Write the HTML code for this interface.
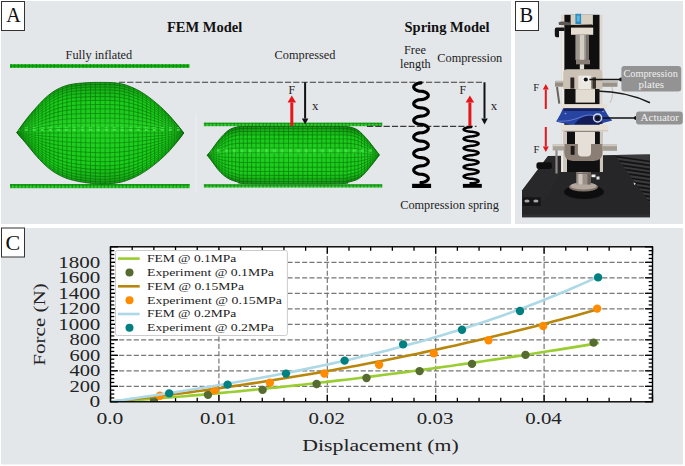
<!DOCTYPE html>
<html><head><meta charset="utf-8"><title>Figure</title>
<style>html,body{margin:0;padding:0;background:#fff;} svg{display:block;} text{font-family:"Liberation Serif", serif;}</style>
</head><body>
<svg width="685" height="466" viewBox="0 0 685 466">
<defs>
 <pattern id="plate" patternUnits="userSpaceOnUse" width="3.6" height="4.4" x="0" y="0">
  <rect width="3.6" height="4.4" fill="#0c860c"/>
  <rect x="0.7" y="0.6" width="2.6" height="3.2" fill="#34cc34"/>
 </pattern>
 <pattern id="mesh" patternUnits="userSpaceOnUse" width="4" height="4">
  <rect width="4" height="4" fill="#077207"/>
  <rect x="0.8" y="0.8" width="3.0" height="3.0" fill="#17c917"/>
 </pattern>
 <pattern id="lsq" patternUnits="userSpaceOnUse" width="8" height="4">
  <rect x="0.8" y="0.8" width="3.0" height="3.0" fill="#4ae84a"/>
 </pattern>
 <radialGradient id="shade" cx="0.5" cy="0.5" r="0.6">
  <stop offset="0" stop-color="#40ff40" stop-opacity="0.1"/>
  <stop offset="0.6" stop-color="#40ff40" stop-opacity="0.0"/>
  <stop offset="1" stop-color="#003000" stop-opacity="0.28"/>
 </radialGradient>
 <linearGradient id="band" x1="0" y1="0" x2="0" y2="1">
  <stop offset="0" stop-color="#002800" stop-opacity="0.25"/>
  <stop offset="0.2" stop-color="#002800" stop-opacity="0.0"/>
  <stop offset="0.42" stop-color="#60ff60" stop-opacity="0.12"/>
  <stop offset="0.52" stop-color="#60ff60" stop-opacity="0.05"/>
  <stop offset="0.8" stop-color="#002800" stop-opacity="0.0"/>
  <stop offset="1" stop-color="#002800" stop-opacity="0.25"/>
 </linearGradient>
 <clipPath id="plotclip"><rect x="110.5" y="246.8" width="542.0" height="155.0"/></clipPath>
</defs><rect x="0" y="0" width="685" height="466" fill="#ffffff"/>
<rect x="1" y="1" width="510" height="223" fill="#e4e7ea"/>
<rect x="515" y="1" width="168" height="223" fill="#e4e7ea"/>
<rect x="1" y="228" width="682" height="236.5" fill="#e4e7ea"/>
<rect x="1.5" y="1.5" width="23" height="29" fill="#fff" stroke="#333" stroke-width="1"/>
<text x="6.2" y="21.6" font-family="'Liberation Serif', serif" font-size="20" fill="#111">A</text>
<text x="167" y="31.8" font-family="'Liberation Serif', serif" font-weight="bold" font-size="14.5" fill="#111">FEM Model</text>
<text x="404.5" y="31.6" font-family="'Liberation Serif', serif" font-weight="bold" font-size="14.5" fill="#111">Spring Model</text>
<text x="65.6" y="59.3" font-family="'Liberation Serif', serif" font-size="12.3" fill="#1c1c1c">Fully inflated</text>
<text x="274.6" y="59.3" font-family="'Liberation Serif', serif" font-size="12.3" fill="#1c1c1c">Compressed</text>
<text x="404" y="54" font-family="'Liberation Serif', serif" font-size="12.3" fill="#1c1c1c">Free</text>
<text x="400" y="68.4" font-family="'Liberation Serif', serif" font-size="12.3" fill="#1c1c1c">length</text>
<text x="437.3" y="61.8" font-family="'Liberation Serif', serif" font-size="12.3" fill="#1c1c1c">Compression</text>
<text x="400.2" y="208.6" font-family="'Liberation Serif', serif" font-size="12.3" fill="#1c1c1c">Compression spring</text>
<rect x="10" y="64" width="179.5" height="4" fill="url(#plate)"/>
<rect x="10" y="184" width="179.8" height="4.199999999999989" fill="url(#plate)"/>
<rect x="203.8" y="122.6" width="178.5" height="3.6000000000000085" fill="url(#plate)"/>
<rect x="203.8" y="184.2" width="178.5" height="3.4000000000000057" fill="url(#plate)"/>
<clipPath id="mf"><path d="M16.7,132.7 C18.13,130.68 22.32,124.50 25.30,120.60 C28.28,116.70 31.27,113.07 34.60,109.30 C37.93,105.53 41.73,101.22 45.30,98.00 C48.87,94.78 52.00,92.22 56.00,90.00 C60.00,87.78 64.20,85.92 69.30,84.70 C74.40,83.48 81.15,83.08 86.60,82.70 C92.05,82.32 97.27,82.38 102.00,82.40 C106.73,82.42 110.90,82.32 115.00,82.80 C119.10,83.28 122.43,83.88 126.60,85.30 C130.77,86.72 135.55,88.75 140.00,91.30 C144.45,93.85 148.87,97.05 153.30,100.60 C157.73,104.15 162.62,108.60 166.60,112.60 C170.58,116.60 174.33,121.20 177.20,124.60 C180.07,128.00 182.70,131.60 183.80,133.00 C182.70,134.47 180.07,138.33 177.20,141.80 C174.33,145.27 170.58,149.85 166.60,153.80 C162.62,157.75 157.73,162.05 153.30,165.50 C148.87,168.95 144.45,172.00 140.00,174.50 C135.55,177.00 130.77,179.05 126.60,180.50 C122.43,181.95 119.10,182.62 115.00,183.20 C110.90,183.78 106.73,184.07 102.00,184.00 C97.27,183.93 92.05,183.58 86.60,182.80 C81.15,182.02 74.40,180.88 69.30,179.30 C64.20,177.72 60.00,175.63 56.00,173.30 C52.00,170.97 48.87,168.52 45.30,165.30 C41.73,162.08 37.93,157.78 34.60,154.00 C31.27,150.22 28.28,146.15 25.30,142.60 C22.32,139.05 18.13,134.35 16.70,132.70 Z"/></clipPath>
<path d="M16.7,132.7 C18.13,130.68 22.32,124.50 25.30,120.60 C28.28,116.70 31.27,113.07 34.60,109.30 C37.93,105.53 41.73,101.22 45.30,98.00 C48.87,94.78 52.00,92.22 56.00,90.00 C60.00,87.78 64.20,85.92 69.30,84.70 C74.40,83.48 81.15,83.08 86.60,82.70 C92.05,82.32 97.27,82.38 102.00,82.40 C106.73,82.42 110.90,82.32 115.00,82.80 C119.10,83.28 122.43,83.88 126.60,85.30 C130.77,86.72 135.55,88.75 140.00,91.30 C144.45,93.85 148.87,97.05 153.30,100.60 C157.73,104.15 162.62,108.60 166.60,112.60 C170.58,116.60 174.33,121.20 177.20,124.60 C180.07,128.00 182.70,131.60 183.80,133.00 C182.70,134.47 180.07,138.33 177.20,141.80 C174.33,145.27 170.58,149.85 166.60,153.80 C162.62,157.75 157.73,162.05 153.30,165.50 C148.87,168.95 144.45,172.00 140.00,174.50 C135.55,177.00 130.77,179.05 126.60,180.50 C122.43,181.95 119.10,182.62 115.00,183.20 C110.90,183.78 106.73,184.07 102.00,184.00 C97.27,183.93 92.05,183.58 86.60,182.80 C81.15,182.02 74.40,180.88 69.30,179.30 C64.20,177.72 60.00,175.63 56.00,173.30 C52.00,170.97 48.87,168.52 45.30,165.30 C41.73,162.08 37.93,157.78 34.60,154.00 C31.27,150.22 28.28,146.15 25.30,142.60 C22.32,139.05 18.13,134.35 16.70,132.70 Z" fill="#1bcd1b"/>
<g clip-path="url(#mf)" fill="none" stroke="#077a07" stroke-width="0.7"><path d="M16.7,132.7 L19.5,128.8 L22.4,125.0 L25.2,121.3 L28.0,117.8 L30.9,114.5 L33.7,111.3 L36.5,108.2 L39.4,105.2 L42.2,102.3 L45.0,99.7 L47.9,97.3 L50.7,95.1 L53.5,93.2 L56.4,91.6 L59.2,90.2 L62.0,89.0 L64.8,88.0 L67.7,87.1 L70.5,86.5 L73.3,86.0 L76.2,85.6 L79.0,85.4 L81.8,85.1 L84.7,84.9 L87.5,84.8 L90.3,84.6 L93.2,84.6 L96.0,84.5 L98.8,84.5 L101.7,84.5 L104.5,84.5 L107.3,84.5 L110.2,84.6 L113.0,84.7 L115.8,85.0 L118.7,85.4 L121.5,85.9 L124.3,86.6 L127.2,87.5 L130.0,88.5 L132.8,89.6 L135.7,90.9 L138.5,92.3 L141.3,93.8 L144.1,95.5 L147.0,97.4 L149.8,99.4 L152.6,101.5 L155.5,103.7 L158.3,106.0 L161.1,108.4 L164.0,111.0 L166.8,113.7 L169.6,116.5 L172.5,119.6 L175.3,122.8 L178.1,126.0 L181.0,129.5 L183.8,133.0"/><path d="M16.7,132.7 L19.5,129.0 L22.4,125.4 L25.2,121.9 L28.0,118.6 L30.9,115.4 L33.7,112.4 L36.5,109.5 L39.4,106.6 L42.2,103.9 L45.0,101.4 L47.9,99.2 L50.7,97.1 L53.5,95.3 L56.4,93.8 L59.2,92.4 L62.0,91.3 L64.8,90.3 L67.7,89.5 L70.5,88.9 L73.3,88.4 L76.2,88.1 L79.0,87.8 L81.8,87.6 L84.7,87.4 L87.5,87.2 L90.3,87.1 L93.2,87.0 L96.0,87.0 L98.8,87.0 L101.7,87.0 L104.5,87.0 L107.3,87.0 L110.2,87.1 L113.0,87.2 L115.8,87.5 L118.7,87.9 L121.5,88.3 L124.3,89.0 L127.2,89.8 L130.0,90.8 L132.8,91.9 L135.7,93.0 L138.5,94.3 L141.3,95.8 L144.1,97.4 L147.0,99.2 L149.8,101.1 L152.6,103.1 L155.5,105.2 L158.3,107.4 L161.1,109.7 L164.0,112.1 L166.8,114.7 L169.6,117.4 L172.5,120.3 L175.3,123.3 L178.1,126.4 L181.0,129.6 L183.8,133.0"/><path d="M16.7,132.7 L19.5,129.3 L22.4,125.8 L25.2,122.5 L28.0,119.5 L30.9,116.5 L33.7,113.7 L36.5,111.0 L39.4,108.3 L42.2,105.7 L45.0,103.4 L47.9,101.3 L50.7,99.3 L53.5,97.6 L56.4,96.2 L59.2,94.9 L62.0,93.9 L64.8,92.9 L67.7,92.2 L70.5,91.6 L73.3,91.2 L76.2,90.9 L79.0,90.6 L81.8,90.4 L84.7,90.3 L87.5,90.1 L90.3,90.0 L93.2,89.9 L96.0,89.9 L98.8,89.9 L101.7,89.9 L104.5,89.9 L107.3,89.9 L110.2,89.9 L113.0,90.1 L115.8,90.3 L118.7,90.7 L121.5,91.1 L124.3,91.7 L127.2,92.5 L130.0,93.4 L132.8,94.4 L135.7,95.5 L138.5,96.7 L141.3,98.1 L144.1,99.7 L147.0,101.3 L149.8,103.1 L152.6,104.9 L155.5,106.9 L158.3,109.0 L161.1,111.2 L164.0,113.4 L166.8,115.8 L169.6,118.3 L172.5,121.1 L175.3,123.9 L178.1,126.8 L181.0,129.8 L183.8,133.0"/><path d="M16.7,132.8 L19.5,129.6 L22.4,126.4 L25.2,123.3 L28.0,120.5 L30.9,117.7 L33.7,115.1 L36.5,112.6 L39.4,110.1 L42.2,107.8 L45.0,105.6 L47.9,103.6 L50.7,101.8 L53.5,100.3 L56.4,98.9 L59.2,97.8 L62.0,96.8 L64.8,95.9 L67.7,95.2 L70.5,94.7 L73.3,94.3 L76.2,94.0 L79.0,93.8 L81.8,93.6 L84.7,93.4 L87.5,93.3 L90.3,93.2 L93.2,93.1 L96.0,93.1 L98.8,93.1 L101.7,93.1 L104.5,93.1 L107.3,93.1 L110.2,93.1 L113.0,93.2 L115.8,93.5 L118.7,93.8 L121.5,94.2 L124.3,94.8 L127.2,95.5 L130.0,96.3 L132.8,97.3 L135.7,98.3 L138.5,99.4 L141.3,100.7 L144.1,102.1 L147.0,103.7 L149.8,105.3 L152.6,107.0 L155.5,108.8 L158.3,110.8 L161.1,112.8 L164.0,114.9 L166.8,117.1 L169.6,119.4 L172.5,122.0 L175.3,124.6 L178.1,127.3 L181.0,130.1 L183.8,133.0"/><path d="M16.7,132.8 L19.5,129.9 L22.4,127.0 L25.2,124.2 L28.0,121.6 L30.9,119.1 L33.7,116.7 L36.5,114.4 L39.4,112.1 L42.2,110.0 L45.0,108.0 L47.9,106.2 L50.7,104.6 L53.5,103.1 L56.4,101.9 L59.2,100.9 L62.0,100.0 L64.8,99.2 L67.7,98.6 L70.5,98.1 L73.3,97.7 L76.2,97.4 L79.0,97.2 L81.8,97.1 L84.7,96.9 L87.5,96.8 L90.3,96.7 L93.2,96.6 L96.0,96.6 L98.8,96.6 L101.7,96.6 L104.5,96.6 L107.3,96.6 L110.2,96.7 L113.0,96.8 L115.8,97.0 L118.7,97.3 L121.5,97.7 L124.3,98.2 L127.2,98.8 L130.0,99.6 L132.8,100.4 L135.7,101.4 L138.5,102.4 L141.3,103.6 L144.1,104.9 L147.0,106.3 L149.8,107.7 L152.6,109.3 L155.5,111.0 L158.3,112.7 L161.1,114.6 L164.0,116.5 L166.8,118.5 L169.6,120.6 L172.5,122.9 L175.3,125.3 L178.1,127.8 L181.0,130.3 L183.8,133.0"/><path d="M16.7,132.8 L19.5,130.2 L22.4,127.6 L25.2,125.1 L28.0,122.8 L30.9,120.5 L33.7,118.4 L36.5,116.4 L39.4,114.3 L42.2,112.4 L45.0,110.6 L47.9,109.0 L50.7,107.6 L53.5,106.3 L56.4,105.2 L59.2,104.3 L62.0,103.4 L64.8,102.8 L67.7,102.2 L70.5,101.7 L73.3,101.4 L76.2,101.2 L79.0,101.0 L81.8,100.9 L84.7,100.7 L87.5,100.6 L90.3,100.5 L93.2,100.5 L96.0,100.4 L98.8,100.4 L101.7,100.4 L104.5,100.4 L107.3,100.4 L110.2,100.5 L113.0,100.6 L115.8,100.8 L118.7,101.0 L121.5,101.4 L124.3,101.8 L127.2,102.4 L130.0,103.1 L132.8,103.9 L135.7,104.7 L138.5,105.6 L141.3,106.7 L144.1,107.8 L147.0,109.1 L149.8,110.4 L152.6,111.8 L155.5,113.3 L158.3,114.9 L161.1,116.5 L164.0,118.2 L166.8,120.0 L169.6,121.9 L172.5,124.0 L175.3,126.1 L178.1,128.3 L181.0,130.6 L183.8,133.0"/><path d="M16.7,132.8 L19.5,130.5 L22.4,128.3 L25.2,126.1 L28.0,124.1 L30.9,122.1 L33.7,120.3 L36.5,118.5 L39.4,116.7 L42.2,115.0 L45.0,113.5 L47.9,112.1 L50.7,110.8 L53.5,109.7 L56.4,108.7 L59.2,107.9 L62.0,107.2 L64.8,106.6 L67.7,106.1 L70.5,105.7 L73.3,105.4 L76.2,105.2 L79.0,105.0 L81.8,104.9 L84.7,104.8 L87.5,104.7 L90.3,104.6 L93.2,104.6 L96.0,104.5 L98.8,104.5 L101.7,104.5 L104.5,104.5 L107.3,104.6 L110.2,104.6 L113.0,104.7 L115.8,104.8 L118.7,105.1 L121.5,105.4 L124.3,105.8 L127.2,106.3 L130.0,106.9 L132.8,107.5 L135.7,108.3 L138.5,109.1 L141.3,110.0 L144.1,111.0 L147.0,112.1 L149.8,113.3 L152.6,114.5 L155.5,115.8 L158.3,117.2 L161.1,118.6 L164.0,120.1 L166.8,121.6 L169.6,123.3 L172.5,125.1 L175.3,127.0 L178.1,128.9 L181.0,130.9 L183.8,133.0"/><path d="M16.7,132.9 L19.5,130.9 L22.4,129.0 L25.2,127.2 L28.0,125.4 L30.9,123.8 L33.7,122.2 L36.5,120.7 L39.4,119.2 L42.2,117.8 L45.0,116.4 L47.9,115.3 L50.7,114.2 L53.5,113.2 L56.4,112.4 L59.2,111.7 L62.0,111.1 L64.8,110.6 L67.7,110.2 L70.5,109.9 L73.3,109.6 L76.2,109.5 L79.0,109.3 L81.8,109.2 L84.7,109.1 L87.5,109.0 L90.3,108.9 L93.2,108.9 L96.0,108.9 L98.8,108.9 L101.7,108.9 L104.5,108.9 L107.3,108.9 L110.2,108.9 L113.0,109.0 L115.8,109.1 L118.7,109.3 L121.5,109.6 L124.3,109.9 L127.2,110.4 L130.0,110.9 L132.8,111.4 L135.7,112.0 L138.5,112.7 L141.3,113.5 L144.1,114.4 L147.0,115.3 L149.8,116.3 L152.6,117.3 L155.5,118.4 L158.3,119.6 L161.1,120.8 L164.0,122.1 L166.8,123.4 L169.6,124.8 L172.5,126.3 L175.3,127.9 L178.1,129.5 L181.0,131.2 L183.8,133.0"/><path d="M16.7,132.9 L19.5,131.3 L22.4,129.8 L25.2,128.3 L28.0,126.9 L30.9,125.5 L33.7,124.2 L36.5,123.0 L39.4,121.8 L42.2,120.6 L45.0,119.6 L47.9,118.6 L50.7,117.7 L53.5,117.0 L56.4,116.3 L59.2,115.8 L62.0,115.3 L64.8,114.8 L67.7,114.5 L70.5,114.2 L73.3,114.1 L76.2,113.9 L79.0,113.8 L81.8,113.7 L84.7,113.6 L87.5,113.6 L90.3,113.5 L93.2,113.5 L96.0,113.5 L98.8,113.5 L101.7,113.5 L104.5,113.5 L107.3,113.5 L110.2,113.5 L113.0,113.5 L115.8,113.7 L118.7,113.8 L121.5,114.0 L124.3,114.3 L127.2,114.7 L130.0,115.1 L132.8,115.5 L135.7,116.0 L138.5,116.6 L141.3,117.2 L144.1,117.9 L147.0,118.6 L149.8,119.4 L152.6,120.3 L155.5,121.2 L158.3,122.1 L161.1,123.1 L164.0,124.1 L166.8,125.2 L169.6,126.4 L172.5,127.6 L175.3,128.9 L178.1,130.2 L181.0,131.6 L183.8,133.0"/><path d="M16.7,132.9 L19.5,131.7 L22.4,130.5 L25.2,129.4 L28.0,128.3 L30.9,127.3 L33.7,126.4 L36.5,125.4 L39.4,124.5 L42.2,123.6 L45.0,122.8 L47.9,122.1 L50.7,121.4 L53.5,120.9 L56.4,120.4 L59.2,119.9 L62.0,119.6 L64.8,119.2 L67.7,119.0 L70.5,118.8 L73.3,118.6 L76.2,118.5 L79.0,118.4 L81.8,118.4 L84.7,118.3 L87.5,118.3 L90.3,118.2 L93.2,118.2 L96.0,118.2 L98.8,118.2 L101.7,118.2 L104.5,118.2 L107.3,118.2 L110.2,118.2 L113.0,118.3 L115.8,118.3 L118.7,118.5 L121.5,118.6 L124.3,118.8 L127.2,119.1 L130.0,119.4 L132.8,119.7 L135.7,120.1 L138.5,120.5 L141.3,121.0 L144.1,121.5 L147.0,122.1 L149.8,122.7 L152.6,123.4 L155.5,124.0 L158.3,124.8 L161.1,125.5 L164.0,126.3 L166.8,127.1 L169.6,128.0 L172.5,128.9 L175.3,129.9 L178.1,130.9 L181.0,131.9 L183.8,133.0"/><path d="M16.7,132.9 L19.5,132.1 L22.4,131.3 L25.2,130.6 L28.0,129.9 L30.9,129.2 L33.7,128.5 L36.5,127.9 L39.4,127.3 L42.2,126.7 L45.0,126.2 L47.9,125.7 L50.7,125.2 L53.5,124.8 L56.4,124.5 L59.2,124.2 L62.0,124.0 L64.8,123.8 L67.7,123.6 L70.5,123.5 L73.3,123.4 L76.2,123.3 L79.0,123.2 L81.8,123.2 L84.7,123.1 L87.5,123.1 L90.3,123.1 L93.2,123.1 L96.0,123.1 L98.8,123.1 L101.7,123.1 L104.5,123.1 L107.3,123.1 L110.2,123.1 L113.0,123.1 L115.8,123.2 L118.7,123.2 L121.5,123.3 L124.3,123.5 L127.2,123.7 L130.0,123.9 L132.8,124.1 L135.7,124.4 L138.5,124.6 L141.3,125.0 L144.1,125.3 L147.0,125.7 L149.8,126.1 L152.6,126.5 L155.5,127.0 L158.3,127.5 L161.1,128.0 L164.0,128.5 L166.8,129.0 L169.6,129.6 L172.5,130.2 L175.3,130.9 L178.1,131.6 L181.0,132.3 L183.8,133.0"/><path d="M16.7,133.0 L19.5,132.6 L22.4,132.2 L25.2,131.8 L28.0,131.4 L30.9,131.1 L33.7,130.8 L36.5,130.4 L39.4,130.1 L42.2,129.8 L45.0,129.6 L47.9,129.3 L50.7,129.1 L53.5,128.9 L56.4,128.7 L59.2,128.6 L62.0,128.5 L64.8,128.4 L67.7,128.3 L70.5,128.2 L73.3,128.2 L76.2,128.1 L79.0,128.1 L81.8,128.1 L84.7,128.0 L87.5,128.0 L90.3,128.0 L93.2,128.0 L96.0,128.0 L98.8,128.0 L101.7,128.0 L104.5,128.0 L107.3,128.0 L110.2,128.0 L113.0,128.0 L115.8,128.1 L118.7,128.1 L121.5,128.1 L124.3,128.2 L127.2,128.3 L130.0,128.4 L132.8,128.5 L135.7,128.7 L138.5,128.8 L141.3,129.0 L144.1,129.1 L147.0,129.3 L149.8,129.5 L152.6,129.7 L155.5,130.0 L158.3,130.2 L161.1,130.5 L164.0,130.7 L166.8,131.0 L169.6,131.3 L172.5,131.6 L175.3,131.9 L178.1,132.3 L181.0,132.6 L183.8,133.0"/><path d="M16.7,133.0 L19.5,133.0 L22.4,133.0 L25.2,133.0 L28.0,133.0 L30.9,133.0 L33.7,133.0 L36.5,133.0 L39.4,133.0 L42.2,133.0 L45.0,133.0 L47.9,133.0 L50.7,133.0 L53.5,133.0 L56.4,133.0 L59.2,133.0 L62.0,133.0 L64.8,133.0 L67.7,133.0 L70.5,133.0 L73.3,133.0 L76.2,133.0 L79.0,133.0 L81.8,133.0 L84.7,133.0 L87.5,133.0 L90.3,133.0 L93.2,133.0 L96.0,133.0 L98.8,133.0 L101.7,133.0 L104.5,133.0 L107.3,133.0 L110.2,133.0 L113.0,133.0 L115.8,133.0 L118.7,133.0 L121.5,133.0 L124.3,133.0 L127.2,133.0 L130.0,133.0 L132.8,133.0 L135.7,133.0 L138.5,133.0 L141.3,133.0 L144.1,133.0 L147.0,133.0 L149.8,133.0 L152.6,133.0 L155.5,133.0 L158.3,133.0 L161.1,133.0 L164.0,133.0 L166.8,133.0 L169.6,133.0 L172.5,133.0 L175.3,133.0 L178.1,133.0 L181.0,133.0 L183.8,133.0"/><path d="M16.7,133.0 L19.5,133.3 L22.4,133.6 L25.2,133.9 L28.0,134.3 L30.9,134.6 L33.7,135.0 L36.5,135.3 L39.4,135.6 L42.2,135.9 L45.0,136.2 L47.9,136.4 L50.7,136.6 L53.5,136.8 L56.4,137.0 L59.2,137.2 L62.0,137.3 L64.8,137.4 L67.7,137.5 L70.5,137.6 L73.3,137.7 L76.2,137.7 L79.0,137.8 L81.8,137.8 L84.7,137.9 L87.5,137.9 L90.3,138.0 L93.2,138.0 L96.0,138.0 L98.8,138.0 L101.7,138.0 L104.5,138.0 L107.3,138.0 L110.2,138.0 L113.0,138.0 L115.8,137.9 L118.7,137.9 L121.5,137.8 L124.3,137.8 L127.2,137.7 L130.0,137.6 L132.8,137.4 L135.7,137.3 L138.5,137.2 L141.3,137.0 L144.1,136.9 L147.0,136.7 L149.8,136.5 L152.6,136.3 L155.5,136.0 L158.3,135.8 L161.1,135.6 L164.0,135.3 L166.8,135.0 L169.6,134.7 L172.5,134.4 L175.3,134.1 L178.1,133.8 L181.0,133.4 L183.8,133.0"/><path d="M16.7,132.9 L19.5,133.6 L22.4,134.2 L25.2,134.9 L28.0,135.5 L30.9,136.2 L33.7,136.9 L36.5,137.6 L39.4,138.2 L42.2,138.8 L45.0,139.3 L47.9,139.8 L50.7,140.2 L53.5,140.6 L56.4,141.0 L59.2,141.3 L62.0,141.5 L64.8,141.8 L67.7,142.0 L70.5,142.2 L73.3,142.3 L76.2,142.4 L79.0,142.5 L81.8,142.6 L84.7,142.7 L87.5,142.8 L90.3,142.9 L93.2,142.9 L96.0,143.0 L98.8,143.0 L101.7,143.0 L104.5,143.0 L107.3,143.0 L110.2,143.0 L113.0,142.9 L115.8,142.8 L118.7,142.8 L121.5,142.6 L124.3,142.5 L127.2,142.3 L130.0,142.1 L132.8,141.9 L135.7,141.6 L138.5,141.3 L141.3,141.0 L144.1,140.7 L147.0,140.3 L149.8,139.9 L152.6,139.5 L155.5,139.0 L158.3,138.6 L161.1,138.1 L164.0,137.6 L166.8,137.0 L169.6,136.5 L172.5,135.8 L175.3,135.2 L178.1,134.5 L181.0,133.8 L183.8,133.0"/><path d="M16.7,132.9 L19.5,133.9 L22.4,134.8 L25.2,135.8 L28.0,136.8 L30.9,137.8 L33.7,138.8 L36.5,139.8 L39.4,140.7 L42.2,141.6 L45.0,142.4 L47.9,143.1 L50.7,143.8 L53.5,144.3 L56.4,144.9 L59.2,145.3 L62.0,145.7 L64.8,146.1 L67.7,146.4 L70.5,146.7 L73.3,146.9 L76.2,147.1 L79.0,147.2 L81.8,147.4 L84.7,147.5 L87.5,147.6 L90.3,147.7 L93.2,147.8 L96.0,147.9 L98.8,147.9 L101.7,147.9 L104.5,147.9 L107.3,147.9 L110.2,147.9 L113.0,147.8 L115.8,147.7 L118.7,147.5 L121.5,147.3 L124.3,147.1 L127.2,146.8 L130.0,146.5 L132.8,146.2 L135.7,145.8 L138.5,145.4 L141.3,144.9 L144.1,144.4 L147.0,143.9 L149.8,143.3 L152.6,142.7 L155.5,142.0 L158.3,141.3 L161.1,140.6 L164.0,139.8 L166.8,139.0 L169.6,138.2 L172.5,137.2 L175.3,136.2 L178.1,135.2 L181.0,134.1 L183.8,133.0"/><path d="M16.7,132.9 L19.5,134.1 L22.4,135.4 L25.2,136.7 L28.0,138.0 L30.9,139.4 L33.7,140.7 L36.5,142.0 L39.4,143.2 L42.2,144.3 L45.0,145.4 L47.9,146.3 L50.7,147.2 L53.5,148.0 L56.4,148.6 L59.2,149.2 L62.0,149.8 L64.8,150.3 L67.7,150.7 L70.5,151.0 L73.3,151.3 L76.2,151.5 L79.0,151.8 L81.8,151.9 L84.7,152.1 L87.5,152.3 L90.3,152.4 L93.2,152.5 L96.0,152.6 L98.8,152.7 L101.7,152.7 L104.5,152.7 L107.3,152.7 L110.2,152.6 L113.0,152.5 L115.8,152.3 L118.7,152.2 L121.5,151.9 L124.3,151.6 L127.2,151.3 L130.0,150.9 L132.8,150.4 L135.7,149.9 L138.5,149.3 L141.3,148.7 L144.1,148.1 L147.0,147.3 L149.8,146.6 L152.6,145.7 L155.5,144.9 L158.3,144.0 L161.1,143.0 L164.0,142.0 L166.8,141.0 L169.6,139.8 L172.5,138.6 L175.3,137.3 L178.1,136.0 L181.0,134.5 L183.8,133.0"/><path d="M16.7,132.9 L19.5,134.4 L22.4,135.9 L25.2,137.5 L28.0,139.2 L30.9,140.9 L33.7,142.5 L36.5,144.0 L39.4,145.5 L42.2,147.0 L45.0,148.3 L47.9,149.4 L50.7,150.5 L53.5,151.5 L56.4,152.3 L59.2,153.0 L62.0,153.7 L64.8,154.3 L67.7,154.8 L70.5,155.2 L73.3,155.6 L76.2,155.9 L79.0,156.1 L81.8,156.4 L84.7,156.6 L87.5,156.8 L90.3,156.9 L93.2,157.1 L96.0,157.2 L98.8,157.3 L101.7,157.3 L104.5,157.3 L107.3,157.3 L110.2,157.2 L113.0,157.0 L115.8,156.9 L118.7,156.6 L121.5,156.3 L124.3,156.0 L127.2,155.5 L130.0,155.0 L132.8,154.5 L135.7,153.8 L138.5,153.2 L141.3,152.4 L144.1,151.6 L147.0,150.7 L149.8,149.7 L152.6,148.7 L155.5,147.7 L158.3,146.5 L161.1,145.4 L164.0,144.1 L166.8,142.8 L169.6,141.4 L172.5,139.9 L175.3,138.3 L178.1,136.6 L181.0,134.9 L183.8,133.0"/><path d="M16.7,132.8 L19.5,134.6 L22.4,136.5 L25.2,138.3 L28.0,140.3 L30.9,142.3 L33.7,144.2 L36.5,146.0 L39.4,147.8 L42.2,149.5 L45.0,151.0 L47.9,152.4 L50.7,153.7 L53.5,154.8 L56.4,155.8 L59.2,156.7 L62.0,157.4 L64.8,158.1 L67.7,158.7 L70.5,159.2 L73.3,159.7 L76.2,160.0 L79.0,160.3 L81.8,160.6 L84.7,160.8 L87.5,161.1 L90.3,161.3 L93.2,161.4 L96.0,161.5 L98.8,161.6 L101.7,161.7 L104.5,161.7 L107.3,161.6 L110.2,161.5 L113.0,161.4 L115.8,161.2 L118.7,160.9 L121.5,160.6 L124.3,160.1 L127.2,159.6 L130.0,159.0 L132.8,158.3 L135.7,157.6 L138.5,156.8 L141.3,155.9 L144.1,154.9 L147.0,153.9 L149.8,152.8 L152.6,151.6 L155.5,150.3 L158.3,149.0 L161.1,147.6 L164.0,146.1 L166.8,144.6 L169.6,142.9 L172.5,141.1 L175.3,139.2 L178.1,137.3 L181.0,135.2 L183.8,133.0"/><path d="M16.7,132.8 L19.5,134.9 L22.4,137.0 L25.2,139.1 L28.0,141.3 L30.9,143.6 L33.7,145.8 L36.5,147.9 L39.4,149.9 L42.2,151.9 L45.0,153.6 L47.9,155.2 L50.7,156.7 L53.5,157.9 L56.4,159.1 L59.2,160.1 L62.0,161.0 L64.8,161.8 L67.7,162.5 L70.5,163.0 L73.3,163.5 L76.2,163.9 L79.0,164.3 L81.8,164.6 L84.7,164.9 L87.5,165.1 L90.3,165.4 L93.2,165.5 L96.0,165.7 L98.8,165.8 L101.7,165.8 L104.5,165.8 L107.3,165.8 L110.2,165.7 L113.0,165.5 L115.8,165.2 L118.7,164.9 L121.5,164.5 L124.3,164.0 L127.2,163.4 L130.0,162.8 L132.8,162.0 L135.7,161.2 L138.5,160.2 L141.3,159.2 L144.1,158.1 L147.0,156.9 L149.8,155.6 L152.6,154.2 L155.5,152.8 L158.3,151.3 L161.1,149.7 L164.0,148.0 L166.8,146.3 L169.6,144.3 L172.5,142.3 L175.3,140.1 L178.1,137.9 L181.0,135.5 L183.8,133.0"/><path d="M16.7,132.8 L19.5,135.1 L22.4,137.4 L25.2,139.8 L28.0,142.3 L30.9,144.9 L33.7,147.4 L36.5,149.7 L39.4,151.9 L42.2,154.1 L45.0,156.0 L47.9,157.8 L50.7,159.5 L53.5,160.9 L56.4,162.1 L59.2,163.3 L62.0,164.3 L64.8,165.2 L67.7,165.9 L70.5,166.6 L73.3,167.1 L76.2,167.5 L79.0,167.9 L81.8,168.3 L84.7,168.6 L87.5,168.9 L90.3,169.2 L93.2,169.4 L96.0,169.5 L98.8,169.6 L101.7,169.7 L104.5,169.7 L107.3,169.6 L110.2,169.5 L113.0,169.3 L115.8,169.0 L118.7,168.7 L121.5,168.2 L124.3,167.7 L127.2,167.0 L130.0,166.3 L132.8,165.4 L135.7,164.5 L138.5,163.4 L141.3,162.3 L144.1,161.1 L147.0,159.7 L149.8,158.3 L152.6,156.7 L155.5,155.1 L158.3,153.4 L161.1,151.6 L164.0,149.8 L166.8,147.8 L169.6,145.7 L172.5,143.4 L175.3,141.0 L178.1,138.5 L181.0,135.8 L183.8,133.0"/><path d="M16.7,132.8 L19.5,135.3 L22.4,137.9 L25.2,140.5 L28.0,143.2 L30.9,146.0 L33.7,148.7 L36.5,151.3 L39.4,153.8 L42.2,156.1 L45.0,158.3 L47.9,160.2 L50.7,162.0 L53.5,163.6 L56.4,165.0 L59.2,166.2 L62.0,167.3 L64.8,168.3 L67.7,169.1 L70.5,169.8 L73.3,170.4 L76.2,170.9 L79.0,171.3 L81.8,171.7 L84.7,172.1 L87.5,172.4 L90.3,172.7 L93.2,172.9 L96.0,173.0 L98.8,173.2 L101.7,173.2 L104.5,173.2 L107.3,173.2 L110.2,173.0 L113.0,172.8 L115.8,172.5 L118.7,172.1 L121.5,171.7 L124.3,171.1 L127.2,170.3 L130.0,169.5 L132.8,168.5 L135.7,167.5 L138.5,166.4 L141.3,165.1 L144.1,163.8 L147.0,162.3 L149.8,160.7 L152.6,159.0 L155.5,157.3 L158.3,155.4 L161.1,153.5 L164.0,151.4 L166.8,149.2 L169.6,146.9 L172.5,144.4 L175.3,141.7 L178.1,139.0 L181.0,136.1 L183.8,133.0"/><path d="M16.7,132.7 L19.5,135.5 L22.4,138.3 L25.2,141.1 L28.0,144.0 L30.9,147.1 L33.7,150.0 L36.5,152.8 L39.4,155.4 L42.2,158.0 L45.0,160.3 L47.9,162.4 L50.7,164.3 L53.5,166.0 L56.4,167.5 L59.2,168.8 L62.0,170.0 L64.8,171.1 L67.7,172.0 L70.5,172.8 L73.3,173.4 L76.2,173.9 L79.0,174.4 L81.8,174.8 L84.7,175.2 L87.5,175.5 L90.3,175.8 L93.2,176.1 L96.0,176.3 L98.8,176.4 L101.7,176.5 L104.5,176.5 L107.3,176.4 L110.2,176.2 L113.0,176.0 L115.8,175.7 L118.7,175.3 L121.5,174.8 L124.3,174.1 L127.2,173.3 L130.0,172.4 L132.8,171.4 L135.7,170.3 L138.5,169.1 L141.3,167.7 L144.1,166.2 L147.0,164.6 L149.8,162.9 L152.6,161.1 L155.5,159.2 L158.3,157.2 L161.1,155.1 L164.0,152.9 L166.8,150.5 L169.6,148.0 L172.5,145.3 L175.3,142.5 L178.1,139.5 L181.0,136.3 L183.8,133.0"/><path d="M16.7,132.7 L19.5,135.7 L22.4,138.6 L25.2,141.6 L28.0,144.8 L30.9,148.0 L33.7,151.1 L36.5,154.1 L39.4,156.9 L42.2,159.6 L45.0,162.1 L47.9,164.4 L50.7,166.4 L53.5,168.2 L56.4,169.8 L59.2,171.2 L62.0,172.5 L64.8,173.6 L67.7,174.6 L70.5,175.4 L73.3,176.1 L76.2,176.6 L79.0,177.1 L81.8,177.6 L84.7,178.0 L87.5,178.4 L90.3,178.7 L93.2,178.9 L96.0,179.1 L98.8,179.3 L101.7,179.3 L104.5,179.3 L107.3,179.3 L110.2,179.1 L113.0,178.8 L115.8,178.5 L118.7,178.1 L121.5,177.5 L124.3,176.8 L127.2,176.0 L130.0,175.0 L132.8,173.9 L135.7,172.8 L138.5,171.5 L141.3,170.0 L144.1,168.4 L147.0,166.7 L149.8,164.9 L152.6,163.0 L155.5,161.0 L158.3,158.8 L161.1,156.6 L164.0,154.2 L166.8,151.7 L169.6,149.0 L172.5,146.1 L175.3,143.1 L178.1,139.9 L181.0,136.6 L183.8,133.0"/><path d="M16.7,132.7 L19.5,135.8 L22.4,138.9 L25.2,142.1 L28.0,145.4 L30.9,148.8 L33.7,152.1 L36.5,155.2 L39.4,158.2 L42.2,161.1 L45.0,163.7 L47.9,166.1 L50.7,168.2 L53.5,170.1 L56.4,171.8 L59.2,173.3 L62.0,174.6 L64.8,175.8 L67.7,176.8 L70.5,177.7 L73.3,178.4 L76.2,179.0 L79.0,179.5 L81.8,180.0 L84.7,180.4 L87.5,180.8 L90.3,181.2 L93.2,181.4 L96.0,181.6 L98.8,181.8 L101.7,181.8 L104.5,181.9 L107.3,181.8 L110.2,181.6 L113.0,181.3 L115.8,181.0 L118.7,180.5 L121.5,179.9 L124.3,179.2 L127.2,178.3 L130.0,177.3 L132.8,176.2 L135.7,174.9 L138.5,173.5 L141.3,172.0 L144.1,170.4 L147.0,168.6 L149.8,166.7 L152.6,164.6 L155.5,162.5 L158.3,160.2 L161.1,157.8 L164.0,155.3 L166.8,152.7 L169.6,149.9 L172.5,146.8 L175.3,143.6 L178.1,140.3 L181.0,136.8 L183.8,133.0"/><line x1="18.7" y1="60" x2="18.7" y2="200"/><line x1="20.9" y1="60" x2="20.9" y2="200"/><line x1="23.4" y1="60" x2="23.4" y2="200"/><line x1="26.0" y1="60" x2="26.0" y2="200"/><line x1="28.8" y1="60" x2="28.8" y2="200"/><line x1="31.9" y1="60" x2="31.9" y2="200"/><line x1="35.1" y1="60" x2="35.1" y2="200"/><line x1="38.5" y1="60" x2="38.5" y2="200"/><line x1="42.1" y1="60" x2="42.1" y2="200"/><line x1="45.9" y1="60" x2="45.9" y2="200"/><line x1="49.8" y1="60" x2="49.8" y2="200"/><line x1="53.9" y1="60" x2="53.9" y2="200"/><line x1="58.1" y1="60" x2="58.1" y2="200"/><line x1="62.5" y1="60" x2="62.5" y2="200"/><line x1="66.9" y1="60" x2="66.9" y2="200"/><line x1="71.5" y1="60" x2="71.5" y2="200"/><line x1="76.2" y1="60" x2="76.2" y2="200"/><line x1="80.9" y1="60" x2="80.9" y2="200"/><line x1="85.7" y1="60" x2="85.7" y2="200"/><line x1="90.5" y1="60" x2="90.5" y2="200"/><line x1="95.4" y1="60" x2="95.4" y2="200"/><line x1="100.2" y1="60" x2="100.2" y2="200"/><line x1="105.1" y1="60" x2="105.1" y2="200"/><line x1="110.0" y1="60" x2="110.0" y2="200"/><line x1="114.8" y1="60" x2="114.8" y2="200"/><line x1="119.6" y1="60" x2="119.6" y2="200"/><line x1="124.3" y1="60" x2="124.3" y2="200"/><line x1="129.0" y1="60" x2="129.0" y2="200"/><line x1="133.6" y1="60" x2="133.6" y2="200"/><line x1="138.0" y1="60" x2="138.0" y2="200"/><line x1="142.4" y1="60" x2="142.4" y2="200"/><line x1="146.6" y1="60" x2="146.6" y2="200"/><line x1="150.7" y1="60" x2="150.7" y2="200"/><line x1="154.6" y1="60" x2="154.6" y2="200"/><line x1="158.4" y1="60" x2="158.4" y2="200"/><line x1="162.0" y1="60" x2="162.0" y2="200"/><line x1="165.4" y1="60" x2="165.4" y2="200"/><line x1="168.6" y1="60" x2="168.6" y2="200"/><line x1="171.7" y1="60" x2="171.7" y2="200"/><line x1="174.5" y1="60" x2="174.5" y2="200"/><line x1="177.1" y1="60" x2="177.1" y2="200"/><line x1="179.6" y1="60" x2="179.6" y2="200"/><line x1="181.8" y1="60" x2="181.8" y2="200"/></g>
<clipPath id="mc"><path d="M207.2,155.3 C208.00,154.30 210.20,151.68 212.00,149.30 C213.80,146.92 216.00,143.50 218.00,141.00 C220.00,138.50 222.00,136.25 224.00,134.30 C226.00,132.35 227.73,130.55 230.00,129.30 C232.27,128.05 235.27,127.28 237.60,126.80 C239.93,126.32 234.77,126.47 244.00,126.40 C253.23,126.33 276.67,126.40 293.00,126.40 C309.33,126.40 332.67,126.33 342.00,126.40 C351.33,126.47 346.57,126.32 349.00,126.80 C351.43,127.28 354.33,128.05 356.60,129.30 C358.87,130.55 360.60,132.35 362.60,134.30 C364.60,136.25 366.60,138.62 368.60,141.00 C370.60,143.38 372.80,146.28 374.60,148.60 C376.40,150.92 378.60,153.85 379.40,154.90 C378.60,155.98 376.40,159.07 374.60,161.40 C372.80,163.73 370.60,166.53 368.60,168.90 C366.60,171.27 364.60,173.78 362.60,175.60 C360.60,177.42 358.87,178.73 356.60,179.80 C354.33,180.87 351.43,181.37 349.00,182.00 C346.57,182.63 351.33,183.30 342.00,183.60 C332.67,183.90 309.33,183.80 293.00,183.80 C276.67,183.80 253.23,183.90 244.00,183.60 C234.77,183.30 239.93,182.70 237.60,182.00 C235.27,181.30 232.27,180.47 230.00,179.40 C227.73,178.33 226.00,177.23 224.00,175.60 C222.00,173.97 220.00,171.97 218.00,169.60 C216.00,167.23 213.80,163.78 212.00,161.40 C210.20,159.02 208.00,156.32 207.20,155.30 Z"/></clipPath>
<path d="M207.2,155.3 C208.00,154.30 210.20,151.68 212.00,149.30 C213.80,146.92 216.00,143.50 218.00,141.00 C220.00,138.50 222.00,136.25 224.00,134.30 C226.00,132.35 227.73,130.55 230.00,129.30 C232.27,128.05 235.27,127.28 237.60,126.80 C239.93,126.32 234.77,126.47 244.00,126.40 C253.23,126.33 276.67,126.40 293.00,126.40 C309.33,126.40 332.67,126.33 342.00,126.40 C351.33,126.47 346.57,126.32 349.00,126.80 C351.43,127.28 354.33,128.05 356.60,129.30 C358.87,130.55 360.60,132.35 362.60,134.30 C364.60,136.25 366.60,138.62 368.60,141.00 C370.60,143.38 372.80,146.28 374.60,148.60 C376.40,150.92 378.60,153.85 379.40,154.90 C378.60,155.98 376.40,159.07 374.60,161.40 C372.80,163.73 370.60,166.53 368.60,168.90 C366.60,171.27 364.60,173.78 362.60,175.60 C360.60,177.42 358.87,178.73 356.60,179.80 C354.33,180.87 351.43,181.37 349.00,182.00 C346.57,182.63 351.33,183.30 342.00,183.60 C332.67,183.90 309.33,183.80 293.00,183.80 C276.67,183.80 253.23,183.90 244.00,183.60 C234.77,183.30 239.93,182.70 237.60,182.00 C235.27,181.30 232.27,180.47 230.00,179.40 C227.73,178.33 226.00,177.23 224.00,175.60 C222.00,173.97 220.00,171.97 218.00,169.60 C216.00,167.23 213.80,163.78 212.00,161.40 C210.20,159.02 208.00,156.32 207.20,155.30 Z" fill="#1bcd1b"/>
<g clip-path="url(#mc)" fill="none" stroke="#077a07" stroke-width="0.7"><path d="M207.2,155.3 L210.1,152.0 L213.0,148.5 L216.0,144.6 L218.9,141.1 L221.8,138.0 L224.7,135.3 L227.6,132.8 L230.5,131.1 L233.5,130.0 L236.4,129.3 L239.3,128.7 L242.2,128.7 L245.1,128.6 L248.1,128.6 L251.0,128.6 L253.9,128.6 L256.8,128.6 L259.7,128.6 L262.7,128.6 L265.6,128.6 L268.5,128.6 L271.4,128.6 L274.3,128.6 L277.2,128.6 L280.2,128.6 L283.1,128.6 L286.0,128.6 L288.9,128.6 L291.8,128.6 L294.8,128.6 L297.7,128.6 L300.6,128.6 L303.5,128.6 L306.4,128.6 L309.4,128.6 L312.3,128.6 L315.2,128.6 L318.1,128.6 L321.0,128.6 L323.9,128.6 L326.9,128.6 L329.8,128.6 L332.7,128.6 L335.6,128.6 L338.5,128.6 L341.5,128.6 L344.4,128.7 L347.3,128.7 L350.2,129.2 L353.1,130.0 L356.1,131.1 L359.0,132.8 L361.9,135.3 L364.8,138.1 L367.7,141.2 L370.6,144.4 L373.6,147.9 L376.5,151.4 L379.4,154.9"/><path d="M207.2,155.3 L210.1,152.3 L213.0,149.2 L216.0,145.8 L218.9,142.6 L221.8,139.9 L224.7,137.4 L227.6,135.2 L230.5,133.7 L233.5,132.7 L236.4,132.1 L239.3,131.5 L242.2,131.5 L245.1,131.5 L248.1,131.5 L251.0,131.5 L253.9,131.5 L256.8,131.5 L259.7,131.5 L262.7,131.5 L265.6,131.5 L268.5,131.5 L271.4,131.5 L274.3,131.5 L277.2,131.5 L280.2,131.5 L283.1,131.5 L286.0,131.5 L288.9,131.5 L291.8,131.5 L294.8,131.5 L297.7,131.5 L300.6,131.5 L303.5,131.5 L306.4,131.5 L309.4,131.5 L312.3,131.5 L315.2,131.5 L318.1,131.5 L321.0,131.5 L323.9,131.5 L326.9,131.5 L329.8,131.5 L332.7,131.5 L335.6,131.5 L338.5,131.5 L341.5,131.5 L344.4,131.5 L347.3,131.5 L350.2,132.0 L353.1,132.7 L356.1,133.7 L359.0,135.2 L361.9,137.4 L364.8,139.9 L367.7,142.7 L370.6,145.6 L373.6,148.7 L376.5,151.8 L379.4,155.0"/><path d="M207.2,155.3 L210.1,152.8 L213.0,150.1 L216.0,147.2 L218.9,144.5 L221.8,142.1 L224.7,140.0 L227.6,138.1 L230.5,136.8 L233.5,136.0 L236.4,135.4 L239.3,135.0 L242.2,134.9 L245.1,134.9 L248.1,134.9 L251.0,134.9 L253.9,134.9 L256.8,134.9 L259.7,134.9 L262.7,134.9 L265.6,134.9 L268.5,134.9 L271.4,134.9 L274.3,134.9 L277.2,134.9 L280.2,134.9 L283.1,134.9 L286.0,134.9 L288.9,134.9 L291.8,134.9 L294.8,134.9 L297.7,134.9 L300.6,134.9 L303.5,134.9 L306.4,134.9 L309.4,134.9 L312.3,134.9 L315.2,134.9 L318.1,134.9 L321.0,134.9 L323.9,134.9 L326.9,134.9 L329.8,134.9 L332.7,134.9 L335.6,134.9 L338.5,134.9 L341.5,134.9 L344.4,134.9 L347.3,135.0 L350.2,135.4 L353.1,136.0 L356.1,136.8 L359.0,138.1 L361.9,140.0 L364.8,142.1 L367.7,144.5 L370.6,147.0 L373.6,149.6 L376.5,152.3 L379.4,155.0"/><path d="M207.2,155.3 L210.1,153.3 L213.0,151.1 L216.0,148.7 L218.9,146.6 L221.8,144.7 L224.7,143.0 L227.6,141.5 L230.5,140.4 L233.5,139.7 L236.4,139.3 L239.3,138.9 L242.2,138.9 L245.1,138.9 L248.1,138.9 L251.0,138.9 L253.9,138.9 L256.8,138.9 L259.7,138.9 L262.7,138.9 L265.6,138.9 L268.5,138.9 L271.4,138.9 L274.3,138.9 L277.2,138.9 L280.2,138.9 L283.1,138.9 L286.0,138.9 L288.9,138.9 L291.8,138.9 L294.8,138.9 L297.7,138.9 L300.6,138.9 L303.5,138.9 L306.4,138.9 L309.4,138.9 L312.3,138.9 L315.2,138.9 L318.1,138.9 L321.0,138.9 L323.9,138.9 L326.9,138.9 L329.8,138.9 L332.7,138.9 L335.6,138.9 L338.5,138.9 L341.5,138.9 L344.4,138.9 L347.3,138.9 L350.2,139.3 L353.1,139.7 L356.1,140.4 L359.0,141.5 L361.9,143.0 L364.8,144.7 L367.7,146.6 L370.6,148.6 L373.6,150.7 L376.5,152.9 L379.4,155.1"/><path d="M207.2,155.3 L210.1,153.8 L213.0,152.2 L216.0,150.5 L218.9,148.9 L221.8,147.5 L224.7,146.3 L227.6,145.1 L230.5,144.3 L233.5,143.9 L236.4,143.5 L239.3,143.3 L242.2,143.3 L245.1,143.3 L248.1,143.3 L251.0,143.2 L253.9,143.2 L256.8,143.2 L259.7,143.2 L262.7,143.2 L265.6,143.2 L268.5,143.2 L271.4,143.3 L274.3,143.3 L277.2,143.3 L280.2,143.3 L283.1,143.3 L286.0,143.3 L288.9,143.3 L291.8,143.3 L294.8,143.3 L297.7,143.3 L300.6,143.3 L303.5,143.3 L306.4,143.3 L309.4,143.3 L312.3,143.3 L315.2,143.3 L318.1,143.2 L321.0,143.2 L323.9,143.2 L326.9,143.2 L329.8,143.2 L332.7,143.2 L335.6,143.2 L338.5,143.3 L341.5,143.3 L344.4,143.3 L347.3,143.3 L350.2,143.5 L353.1,143.9 L356.1,144.3 L359.0,145.1 L361.9,146.3 L364.8,147.5 L367.7,148.9 L370.6,150.4 L373.6,151.9 L376.5,153.5 L379.4,155.1"/><path d="M207.2,155.3 L210.1,154.4 L213.0,153.4 L216.0,152.4 L218.9,151.4 L221.8,150.5 L224.7,149.8 L227.6,149.1 L230.5,148.6 L233.5,148.3 L236.4,148.1 L239.3,148.0 L242.2,147.9 L245.1,147.9 L248.1,147.9 L251.0,147.9 L253.9,147.9 L256.8,147.9 L259.7,147.9 L262.7,147.9 L265.6,147.9 L268.5,147.9 L271.4,147.9 L274.3,147.9 L277.2,147.9 L280.2,147.9 L283.1,147.9 L286.0,147.9 L288.9,147.9 L291.8,147.9 L294.8,147.9 L297.7,147.9 L300.6,147.9 L303.5,147.9 L306.4,147.9 L309.4,147.9 L312.3,147.9 L315.2,147.9 L318.1,147.9 L321.0,147.9 L323.9,147.9 L326.9,147.9 L329.8,147.9 L332.7,147.9 L335.6,147.9 L338.5,147.9 L341.5,147.9 L344.4,147.9 L347.3,148.0 L350.2,148.1 L353.1,148.3 L356.1,148.6 L359.0,149.1 L361.9,149.8 L364.8,150.5 L367.7,151.4 L370.6,152.3 L373.6,153.3 L376.5,154.2 L379.4,155.2"/><path d="M207.2,155.3 L210.1,155.0 L213.0,154.7 L216.0,154.3 L218.9,154.0 L221.8,153.7 L224.7,153.4 L227.6,153.2 L230.5,153.1 L233.5,153.0 L236.4,152.9 L239.3,152.8 L242.2,152.8 L245.1,152.8 L248.1,152.8 L251.0,152.8 L253.9,152.8 L256.8,152.8 L259.7,152.8 L262.7,152.8 L265.6,152.8 L268.5,152.8 L271.4,152.8 L274.3,152.8 L277.2,152.8 L280.2,152.8 L283.1,152.8 L286.0,152.8 L288.9,152.8 L291.8,152.8 L294.8,152.8 L297.7,152.8 L300.6,152.8 L303.5,152.8 L306.4,152.8 L309.4,152.8 L312.3,152.8 L315.2,152.8 L318.1,152.8 L321.0,152.8 L323.9,152.8 L326.9,152.8 L329.8,152.8 L332.7,152.8 L335.6,152.8 L338.5,152.8 L341.5,152.8 L344.4,152.8 L347.3,152.8 L350.2,152.9 L353.1,153.0 L356.1,153.0 L359.0,153.2 L361.9,153.4 L364.8,153.7 L367.7,154.0 L370.6,154.3 L373.6,154.6 L376.5,154.9 L379.4,155.3"/><path d="M207.2,155.3 L210.1,155.6 L213.0,155.9 L216.0,156.3 L218.9,156.6 L221.8,156.9 L224.7,157.1 L227.6,157.3 L230.5,157.4 L233.5,157.5 L236.4,157.6 L239.3,157.7 L242.2,157.7 L245.1,157.7 L248.1,157.7 L251.0,157.7 L253.9,157.7 L256.8,157.7 L259.7,157.7 L262.7,157.7 L265.6,157.7 L268.5,157.7 L271.4,157.7 L274.3,157.7 L277.2,157.7 L280.2,157.7 L283.1,157.7 L286.0,157.7 L288.9,157.7 L291.8,157.7 L294.8,157.7 L297.7,157.7 L300.6,157.7 L303.5,157.7 L306.4,157.7 L309.4,157.7 L312.3,157.7 L315.2,157.7 L318.1,157.7 L321.0,157.7 L323.9,157.7 L326.9,157.7 L329.8,157.7 L332.7,157.7 L335.6,157.7 L338.5,157.7 L341.5,157.7 L344.4,157.7 L347.3,157.7 L350.2,157.6 L353.1,157.5 L356.1,157.4 L359.0,157.3 L361.9,157.1 L364.8,156.8 L367.7,156.6 L370.6,156.3 L373.6,155.9 L376.5,155.6 L379.4,155.3"/><path d="M207.2,155.3 L210.1,156.2 L213.0,157.2 L216.0,158.3 L218.9,159.2 L221.8,160.0 L224.7,160.6 L227.6,161.1 L230.5,161.5 L233.5,161.8 L236.4,162.0 L239.3,162.4 L242.2,162.5 L245.1,162.5 L248.1,162.5 L251.0,162.5 L253.9,162.5 L256.8,162.5 L259.7,162.6 L262.7,162.6 L265.6,162.6 L268.5,162.6 L271.4,162.6 L274.3,162.6 L277.2,162.6 L280.2,162.6 L283.1,162.6 L286.0,162.6 L288.9,162.6 L291.8,162.6 L294.8,162.6 L297.7,162.6 L300.6,162.6 L303.5,162.6 L306.4,162.6 L309.4,162.6 L312.3,162.6 L315.2,162.6 L318.1,162.6 L321.0,162.6 L323.9,162.6 L326.9,162.6 L329.8,162.5 L332.7,162.5 L335.6,162.5 L338.5,162.5 L341.5,162.5 L344.4,162.5 L347.3,162.4 L350.2,162.0 L353.1,161.8 L356.1,161.6 L359.0,161.2 L361.9,160.6 L364.8,159.9 L367.7,159.0 L370.6,158.1 L373.6,157.2 L376.5,156.2 L379.4,155.2"/><path d="M207.2,155.3 L210.1,156.8 L213.0,158.4 L216.0,160.2 L218.9,161.7 L221.8,162.9 L224.7,164.0 L227.6,164.8 L230.5,165.4 L233.5,165.9 L236.4,166.3 L239.3,167.0 L242.2,167.1 L245.1,167.1 L248.1,167.1 L251.0,167.1 L253.9,167.2 L256.8,167.2 L259.7,167.2 L262.7,167.2 L265.6,167.2 L268.5,167.2 L271.4,167.2 L274.3,167.2 L277.2,167.2 L280.2,167.2 L283.1,167.2 L286.0,167.2 L288.9,167.2 L291.8,167.2 L294.8,167.2 L297.7,167.2 L300.6,167.2 L303.5,167.2 L306.4,167.2 L309.4,167.2 L312.3,167.2 L315.2,167.2 L318.1,167.2 L321.0,167.2 L323.9,167.2 L326.9,167.2 L329.8,167.2 L332.7,167.2 L335.6,167.1 L338.5,167.1 L341.5,167.1 L344.4,167.1 L347.3,166.9 L350.2,166.3 L353.1,166.0 L356.1,165.6 L359.0,165.0 L361.9,164.0 L364.8,162.8 L367.7,161.4 L370.6,159.9 L373.6,158.4 L376.5,156.8 L379.4,155.1"/><path d="M207.2,155.3 L210.1,157.4 L213.0,159.6 L216.0,161.9 L218.9,164.0 L221.8,165.7 L224.7,167.2 L227.6,168.3 L230.5,169.1 L233.5,169.7 L236.4,170.3 L239.3,171.2 L242.2,171.3 L245.1,171.4 L248.1,171.4 L251.0,171.4 L253.9,171.5 L256.8,171.5 L259.7,171.5 L262.7,171.5 L265.6,171.5 L268.5,171.5 L271.4,171.5 L274.3,171.5 L277.2,171.5 L280.2,171.5 L283.1,171.5 L286.0,171.5 L288.9,171.5 L291.8,171.5 L294.8,171.5 L297.7,171.5 L300.6,171.5 L303.5,171.5 L306.4,171.5 L309.4,171.5 L312.3,171.5 L315.2,171.5 L318.1,171.5 L321.0,171.5 L323.9,171.5 L326.9,171.5 L329.8,171.5 L332.7,171.5 L335.6,171.4 L338.5,171.4 L341.5,171.4 L344.4,171.3 L347.3,171.2 L350.2,170.3 L353.1,169.9 L356.1,169.4 L359.0,168.5 L361.9,167.2 L364.8,165.6 L367.7,163.6 L370.6,161.6 L373.6,159.5 L376.5,157.3 L379.4,155.1"/><path d="M207.2,155.3 L210.1,157.9 L213.0,160.6 L216.0,163.5 L218.9,166.1 L221.8,168.2 L224.7,170.0 L227.6,171.4 L230.5,172.5 L233.5,173.2 L236.4,173.9 L239.3,175.0 L242.2,175.2 L245.1,175.3 L248.1,175.3 L251.0,175.3 L253.9,175.4 L256.8,175.4 L259.7,175.4 L262.7,175.4 L265.6,175.4 L268.5,175.4 L271.4,175.4 L274.3,175.4 L277.2,175.4 L280.2,175.4 L283.1,175.4 L286.0,175.4 L288.9,175.4 L291.8,175.4 L294.8,175.4 L297.7,175.4 L300.6,175.4 L303.5,175.4 L306.4,175.4 L309.4,175.4 L312.3,175.4 L315.2,175.4 L318.1,175.4 L321.0,175.4 L323.9,175.4 L326.9,175.4 L329.8,175.4 L332.7,175.3 L335.6,175.3 L338.5,175.3 L341.5,175.2 L344.4,175.2 L347.3,175.0 L350.2,173.9 L353.1,173.4 L356.1,172.7 L359.0,171.6 L361.9,170.0 L364.8,168.0 L367.7,165.6 L370.6,163.1 L373.6,160.5 L376.5,157.8 L379.4,155.0"/><path d="M207.2,155.3 L210.1,158.3 L213.0,161.5 L216.0,164.9 L218.9,167.9 L221.8,170.4 L224.7,172.5 L227.6,174.1 L230.5,175.3 L233.5,176.2 L236.4,177.0 L239.3,178.4 L242.2,178.5 L245.1,178.6 L248.1,178.7 L251.0,178.7 L253.9,178.7 L256.8,178.8 L259.7,178.8 L262.7,178.8 L265.6,178.8 L268.5,178.8 L271.4,178.8 L274.3,178.8 L277.2,178.8 L280.2,178.8 L283.1,178.8 L286.0,178.8 L288.9,178.8 L291.8,178.8 L294.8,178.8 L297.7,178.8 L300.6,178.8 L303.5,178.8 L306.4,178.8 L309.4,178.8 L312.3,178.8 L315.2,178.8 L318.1,178.8 L321.0,178.8 L323.9,178.8 L326.9,178.8 L329.8,178.8 L332.7,178.7 L335.6,178.7 L338.5,178.7 L341.5,178.6 L344.4,178.5 L347.3,178.3 L350.2,177.0 L353.1,176.5 L356.1,175.7 L359.0,174.4 L361.9,172.5 L364.8,170.2 L367.7,167.4 L370.6,164.5 L373.6,161.4 L376.5,158.3 L379.4,155.0"/><path d="M207.2,155.3 L210.1,158.7 L213.0,162.2 L216.0,166.0 L218.9,169.4 L221.8,172.2 L224.7,174.5 L227.6,176.4 L230.5,177.8 L233.5,178.8 L236.4,179.6 L239.3,181.1 L242.2,181.3 L245.1,181.4 L248.1,181.5 L251.0,181.5 L253.9,181.6 L256.8,181.6 L259.7,181.6 L262.7,181.6 L265.6,181.6 L268.5,181.6 L271.4,181.6 L274.3,181.6 L277.2,181.6 L280.2,181.6 L283.1,181.6 L286.0,181.6 L288.9,181.6 L291.8,181.6 L294.8,181.6 L297.7,181.6 L300.6,181.6 L303.5,181.6 L306.4,181.6 L309.4,181.6 L312.3,181.6 L315.2,181.6 L318.1,181.6 L321.0,181.6 L323.9,181.6 L326.9,181.6 L329.8,181.6 L332.7,181.5 L335.6,181.5 L338.5,181.5 L341.5,181.4 L344.4,181.3 L347.3,181.0 L350.2,179.7 L353.1,179.0 L356.1,178.1 L359.0,176.7 L361.9,174.6 L364.8,172.0 L367.7,168.8 L370.6,165.6 L373.6,162.2 L376.5,158.6 L379.4,154.9"/><line x1="209.2" y1="60" x2="209.2" y2="200"/><line x1="211.3" y1="60" x2="211.3" y2="200"/><line x1="213.7" y1="60" x2="213.7" y2="200"/><line x1="216.3" y1="60" x2="216.3" y2="200"/><line x1="219.0" y1="60" x2="219.0" y2="200"/><line x1="222.0" y1="60" x2="222.0" y2="200"/><line x1="225.1" y1="60" x2="225.1" y2="200"/><line x1="228.4" y1="60" x2="228.4" y2="200"/><line x1="231.9" y1="60" x2="231.9" y2="200"/><line x1="235.6" y1="60" x2="235.6" y2="200"/><line x1="239.4" y1="60" x2="239.4" y2="200"/><line x1="243.3" y1="60" x2="243.3" y2="200"/><line x1="247.4" y1="60" x2="247.4" y2="200"/><line x1="251.6" y1="60" x2="251.6" y2="200"/><line x1="256.0" y1="60" x2="256.0" y2="200"/><line x1="260.4" y1="60" x2="260.4" y2="200"/><line x1="264.9" y1="60" x2="264.9" y2="200"/><line x1="269.5" y1="60" x2="269.5" y2="200"/><line x1="274.2" y1="60" x2="274.2" y2="200"/><line x1="278.9" y1="60" x2="278.9" y2="200"/><line x1="283.7" y1="60" x2="283.7" y2="200"/><line x1="288.5" y1="60" x2="288.5" y2="200"/><line x1="293.3" y1="60" x2="293.3" y2="200"/><line x1="298.1" y1="60" x2="298.1" y2="200"/><line x1="302.9" y1="60" x2="302.9" y2="200"/><line x1="307.7" y1="60" x2="307.7" y2="200"/><line x1="312.4" y1="60" x2="312.4" y2="200"/><line x1="317.1" y1="60" x2="317.1" y2="200"/><line x1="321.7" y1="60" x2="321.7" y2="200"/><line x1="326.2" y1="60" x2="326.2" y2="200"/><line x1="330.6" y1="60" x2="330.6" y2="200"/><line x1="335.0" y1="60" x2="335.0" y2="200"/><line x1="339.2" y1="60" x2="339.2" y2="200"/><line x1="343.3" y1="60" x2="343.3" y2="200"/><line x1="347.2" y1="60" x2="347.2" y2="200"/><line x1="351.0" y1="60" x2="351.0" y2="200"/><line x1="354.7" y1="60" x2="354.7" y2="200"/><line x1="358.2" y1="60" x2="358.2" y2="200"/><line x1="361.5" y1="60" x2="361.5" y2="200"/><line x1="364.6" y1="60" x2="364.6" y2="200"/><line x1="367.6" y1="60" x2="367.6" y2="200"/><line x1="370.3" y1="60" x2="370.3" y2="200"/><line x1="372.9" y1="60" x2="372.9" y2="200"/><line x1="375.3" y1="60" x2="375.3" y2="200"/><line x1="377.4" y1="60" x2="377.4" y2="200"/></g>
<rect x="0" y="127" width="400" height="4" fill="url(#lsq)" clip-path="url(#mf)" opacity="0.75"/>
<path d="M16.7,132.7 C18.13,130.68 22.32,124.50 25.30,120.60 C28.28,116.70 31.27,113.07 34.60,109.30 C37.93,105.53 41.73,101.22 45.30,98.00 C48.87,94.78 52.00,92.22 56.00,90.00 C60.00,87.78 64.20,85.92 69.30,84.70 C74.40,83.48 81.15,83.08 86.60,82.70 C92.05,82.32 97.27,82.38 102.00,82.40 C106.73,82.42 110.90,82.32 115.00,82.80 C119.10,83.28 122.43,83.88 126.60,85.30 C130.77,86.72 135.55,88.75 140.00,91.30 C144.45,93.85 148.87,97.05 153.30,100.60 C157.73,104.15 162.62,108.60 166.60,112.60 C170.58,116.60 174.33,121.20 177.20,124.60 C180.07,128.00 182.70,131.60 183.80,133.00 C182.70,134.47 180.07,138.33 177.20,141.80 C174.33,145.27 170.58,149.85 166.60,153.80 C162.62,157.75 157.73,162.05 153.30,165.50 C148.87,168.95 144.45,172.00 140.00,174.50 C135.55,177.00 130.77,179.05 126.60,180.50 C122.43,181.95 119.10,182.62 115.00,183.20 C110.90,183.78 106.73,184.07 102.00,184.00 C97.27,183.93 92.05,183.58 86.60,182.80 C81.15,182.02 74.40,180.88 69.30,179.30 C64.20,177.72 60.00,175.63 56.00,173.30 C52.00,170.97 48.87,168.52 45.30,165.30 C41.73,162.08 37.93,157.78 34.60,154.00 C31.27,150.22 28.28,146.15 25.30,142.60 C22.32,139.05 18.13,134.35 16.70,132.70 Z" fill="url(#band)"/>
<path d="M16.7,132.7 C18.13,130.68 22.32,124.50 25.30,120.60 C28.28,116.70 31.27,113.07 34.60,109.30 C37.93,105.53 41.73,101.22 45.30,98.00 C48.87,94.78 52.00,92.22 56.00,90.00 C60.00,87.78 64.20,85.92 69.30,84.70 C74.40,83.48 81.15,83.08 86.60,82.70 C92.05,82.32 97.27,82.38 102.00,82.40 C106.73,82.42 110.90,82.32 115.00,82.80 C119.10,83.28 122.43,83.88 126.60,85.30 C130.77,86.72 135.55,88.75 140.00,91.30 C144.45,93.85 148.87,97.05 153.30,100.60 C157.73,104.15 162.62,108.60 166.60,112.60 C170.58,116.60 174.33,121.20 177.20,124.60 C180.07,128.00 182.70,131.60 183.80,133.00 C182.70,134.47 180.07,138.33 177.20,141.80 C174.33,145.27 170.58,149.85 166.60,153.80 C162.62,157.75 157.73,162.05 153.30,165.50 C148.87,168.95 144.45,172.00 140.00,174.50 C135.55,177.00 130.77,179.05 126.60,180.50 C122.43,181.95 119.10,182.62 115.00,183.20 C110.90,183.78 106.73,184.07 102.00,184.00 C97.27,183.93 92.05,183.58 86.60,182.80 C81.15,182.02 74.40,180.88 69.30,179.30 C64.20,177.72 60.00,175.63 56.00,173.30 C52.00,170.97 48.87,168.52 45.30,165.30 C41.73,162.08 37.93,157.78 34.60,154.00 C31.27,150.22 28.28,146.15 25.30,142.60 C22.32,139.05 18.13,134.35 16.70,132.70 Z" fill="url(#shade)" stroke="#0a5a0a" stroke-width="0.8"/>
<rect x="0" y="149.3" width="400" height="4" fill="url(#lsq)" clip-path="url(#mc)" opacity="0.75"/>
<path d="M207.2,155.3 C208.00,154.30 210.20,151.68 212.00,149.30 C213.80,146.92 216.00,143.50 218.00,141.00 C220.00,138.50 222.00,136.25 224.00,134.30 C226.00,132.35 227.73,130.55 230.00,129.30 C232.27,128.05 235.27,127.28 237.60,126.80 C239.93,126.32 234.77,126.47 244.00,126.40 C253.23,126.33 276.67,126.40 293.00,126.40 C309.33,126.40 332.67,126.33 342.00,126.40 C351.33,126.47 346.57,126.32 349.00,126.80 C351.43,127.28 354.33,128.05 356.60,129.30 C358.87,130.55 360.60,132.35 362.60,134.30 C364.60,136.25 366.60,138.62 368.60,141.00 C370.60,143.38 372.80,146.28 374.60,148.60 C376.40,150.92 378.60,153.85 379.40,154.90 C378.60,155.98 376.40,159.07 374.60,161.40 C372.80,163.73 370.60,166.53 368.60,168.90 C366.60,171.27 364.60,173.78 362.60,175.60 C360.60,177.42 358.87,178.73 356.60,179.80 C354.33,180.87 351.43,181.37 349.00,182.00 C346.57,182.63 351.33,183.30 342.00,183.60 C332.67,183.90 309.33,183.80 293.00,183.80 C276.67,183.80 253.23,183.90 244.00,183.60 C234.77,183.30 239.93,182.70 237.60,182.00 C235.27,181.30 232.27,180.47 230.00,179.40 C227.73,178.33 226.00,177.23 224.00,175.60 C222.00,173.97 220.00,171.97 218.00,169.60 C216.00,167.23 213.80,163.78 212.00,161.40 C210.20,159.02 208.00,156.32 207.20,155.30 Z" fill="url(#band)"/>
<path d="M207.2,155.3 C208.00,154.30 210.20,151.68 212.00,149.30 C213.80,146.92 216.00,143.50 218.00,141.00 C220.00,138.50 222.00,136.25 224.00,134.30 C226.00,132.35 227.73,130.55 230.00,129.30 C232.27,128.05 235.27,127.28 237.60,126.80 C239.93,126.32 234.77,126.47 244.00,126.40 C253.23,126.33 276.67,126.40 293.00,126.40 C309.33,126.40 332.67,126.33 342.00,126.40 C351.33,126.47 346.57,126.32 349.00,126.80 C351.43,127.28 354.33,128.05 356.60,129.30 C358.87,130.55 360.60,132.35 362.60,134.30 C364.60,136.25 366.60,138.62 368.60,141.00 C370.60,143.38 372.80,146.28 374.60,148.60 C376.40,150.92 378.60,153.85 379.40,154.90 C378.60,155.98 376.40,159.07 374.60,161.40 C372.80,163.73 370.60,166.53 368.60,168.90 C366.60,171.27 364.60,173.78 362.60,175.60 C360.60,177.42 358.87,178.73 356.60,179.80 C354.33,180.87 351.43,181.37 349.00,182.00 C346.57,182.63 351.33,183.30 342.00,183.60 C332.67,183.90 309.33,183.80 293.00,183.80 C276.67,183.80 253.23,183.90 244.00,183.60 C234.77,183.30 239.93,182.70 237.60,182.00 C235.27,181.30 232.27,180.47 230.00,179.40 C227.73,178.33 226.00,177.23 224.00,175.60 C222.00,173.97 220.00,171.97 218.00,169.60 C216.00,167.23 213.80,163.78 212.00,161.40 C210.20,159.02 208.00,156.32 207.20,155.30 Z" fill="url(#shade)" stroke="#0a5a0a" stroke-width="0.8"/>
<line x1="196" y1="114" x2="196" y2="191" stroke="#eceef0" stroke-width="1"/>
<line x1="118.9" y1="82.3" x2="483" y2="82.3" stroke="#3a3a3a" stroke-width="1.1" stroke-dasharray="6.2,2.1"/>
<line x1="367" y1="126.4" x2="476.5" y2="126.4" stroke="#3a3a3a" stroke-width="1.1" stroke-dasharray="6.2,2.1"/>
<line x1="305.1" y1="82.3" x2="305.1" y2="118.5" stroke="#111" stroke-width="2"/>
<path d="M301.85,118.5 L308.35,118.5 L305.1,124.5 Z" fill="#111"/>
<line x1="291.8" y1="126" x2="291.8" y2="102.5" stroke="#e5161b" stroke-width="3"/>
<path d="M287.55,102.5 L296.05,102.5 L291.8,95.5 Z" fill="#e5161b"/>
<text x="288.6" y="93.7" font-family="'Liberation Serif', serif" font-size="11.7" fill="#222">F</text>
<text x="312" y="110" font-family="'Liberation Serif', serif" font-size="12.8" fill="#222">x</text>
<line x1="484.5" y1="82.3" x2="484.5" y2="118.5" stroke="#111" stroke-width="2"/>
<path d="M481.25,118.5 L487.75,118.5 L484.5,124.5 Z" fill="#111"/>
<line x1="469.9" y1="126" x2="469.9" y2="102.5" stroke="#e5161b" stroke-width="3"/>
<path d="M465.65,102.5 L474.15,102.5 L469.9,95.5 Z" fill="#e5161b"/>
<text x="459.6" y="94.4" font-family="'Liberation Serif', serif" font-size="11.7" fill="#222">F</text>
<text x="490.8" y="110" font-family="'Liberation Serif', serif" font-size="12.8" fill="#222">x</text>
<path d="M421.00,82.95 L419.18,83.12 L418.43,83.28 L417.86,83.45 L417.38,83.61 L416.97,83.78 L416.60,83.95 L416.27,84.11 L415.97,84.28 L415.69,84.44 L415.44,84.61 L415.21,84.78 L415.00,84.94 L414.81,85.11 L414.64,85.27 L414.48,85.44 L414.34,85.61 L414.21,85.77 L414.10,85.94 L414.01,86.10 L413.93,86.27 L413.86,86.44 L413.81,86.60 L413.78,86.77 L413.76,86.93 L413.75,87.10 L413.76,87.27 L413.78,87.43 L413.81,87.60 L413.86,87.76 L413.93,87.93 L414.01,88.10 L414.10,88.26 L414.21,88.43 L414.34,88.59 L414.48,88.76 L414.64,88.93 L414.81,89.09 L415.00,89.26 L415.21,89.42 L415.44,89.59 L415.69,89.76 L415.97,89.92 L416.27,90.09 L416.60,90.25 L416.97,90.42 L417.38,90.59 L417.86,90.75 L418.43,90.92 L419.18,91.08 L421.00,91.25 L422.82,91.42 L423.57,91.58 L424.14,91.75 L424.62,91.91 L425.03,92.08 L425.40,92.25 L425.73,92.41 L426.03,92.58 L426.31,92.74 L426.56,92.91 L426.79,93.08 L427.00,93.24 L427.19,93.41 L427.36,93.57 L427.52,93.74 L427.66,93.91 L427.79,94.07 L427.90,94.24 L427.99,94.40 L428.07,94.57 L428.14,94.74 L428.19,94.90 L428.22,95.07 L428.24,95.23 L428.25,95.40 L428.24,95.57 L428.22,95.73 L428.19,95.90 L428.14,96.06 L428.07,96.23 L427.99,96.40 L427.90,96.56 L427.79,96.73 L427.66,96.89 L427.52,97.06 L427.36,97.23 L427.19,97.39 L427.00,97.56 L426.79,97.72 L426.56,97.89 L426.31,98.06 L426.03,98.22 L425.73,98.39 L425.40,98.55 L425.03,98.72 L424.62,98.89 L424.14,99.05 L423.57,99.22 L422.82,99.38 L421.00,99.55 L419.18,99.72 L418.43,99.88 L417.86,100.05 L417.38,100.21 L416.97,100.38 L416.60,100.55 L416.27,100.71 L415.97,100.88 L415.69,101.04 L415.44,101.21 L415.21,101.38 L415.00,101.54 L414.81,101.71 L414.64,101.87 L414.48,102.04 L414.34,102.21 L414.21,102.37 L414.10,102.54 L414.01,102.70 L413.93,102.87 L413.86,103.04 L413.81,103.20 L413.78,103.37 L413.76,103.53 L413.75,103.70 L413.76,103.87 L413.78,104.03 L413.81,104.20 L413.86,104.36 L413.93,104.53 L414.01,104.70 L414.10,104.86 L414.21,105.03 L414.34,105.19 L414.48,105.36 L414.64,105.53 L414.81,105.69 L415.00,105.86 L415.21,106.02 L415.44,106.19 L415.69,106.36 L415.97,106.52 L416.27,106.69 L416.60,106.85 L416.97,107.02 L417.38,107.19 L417.86,107.35 L418.43,107.52 L419.18,107.68 L421.00,107.85 L422.82,108.02 L423.57,108.18 L424.14,108.35 L424.62,108.51 L425.03,108.68 L425.40,108.85 L425.73,109.01 L426.03,109.18 L426.31,109.34 L426.56,109.51 L426.79,109.68 L427.00,109.84 L427.19,110.01 L427.36,110.17 L427.52,110.34 L427.66,110.51 L427.79,110.67 L427.90,110.84 L427.99,111.00 L428.07,111.17 L428.14,111.34 L428.19,111.50 L428.22,111.67 L428.24,111.83 L428.25,112.00 L428.24,112.17 L428.22,112.33 L428.19,112.50 L428.14,112.66 L428.07,112.83 L427.99,113.00 L427.90,113.16 L427.79,113.33 L427.66,113.49 L427.52,113.66 L427.36,113.83 L427.19,113.99 L427.00,114.16 L426.79,114.32 L426.56,114.49 L426.31,114.66 L426.03,114.82 L425.73,114.99 L425.40,115.15 L425.03,115.32 L424.62,115.49 L424.14,115.65 L423.57,115.82 L422.82,115.98 L421.00,116.15 L419.18,116.32 L418.43,116.48 L417.86,116.65 L417.38,116.81 L416.97,116.98 L416.60,117.15 L416.27,117.31 L415.97,117.48 L415.69,117.64 L415.44,117.81 L415.21,117.98 L415.00,118.14 L414.81,118.31 L414.64,118.47 L414.48,118.64 L414.34,118.81 L414.21,118.97 L414.10,119.14 L414.01,119.30 L413.93,119.47 L413.86,119.64 L413.81,119.80 L413.78,119.97 L413.76,120.13 L413.75,120.30 L413.76,120.47 L413.78,120.63 L413.81,120.80 L413.86,120.96 L413.93,121.13 L414.01,121.30 L414.10,121.46 L414.21,121.63 L414.34,121.79 L414.48,121.96 L414.64,122.13 L414.81,122.29 L415.00,122.46 L415.21,122.62 L415.44,122.79 L415.69,122.96 L415.97,123.12 L416.27,123.29 L416.60,123.45 L416.97,123.62 L417.38,123.79 L417.86,123.95 L418.43,124.12 L419.18,124.28 L421.00,124.45 L422.82,124.62 L423.57,124.78 L424.14,124.95 L424.62,125.11 L425.03,125.28 L425.40,125.45 L425.73,125.61 L426.03,125.78 L426.31,125.94 L426.56,126.11 L426.79,126.28 L427.00,126.44 L427.19,126.61 L427.36,126.77 L427.52,126.94 L427.66,127.11 L427.79,127.27 L427.90,127.44 L427.99,127.60 L428.07,127.77 L428.14,127.94 L428.19,128.10 L428.22,128.27 L428.24,128.43 L428.25,128.60 L428.24,128.77 L428.22,128.93 L428.19,129.10 L428.14,129.26 L428.07,129.43 L427.99,129.60 L427.90,129.76 L427.79,129.93 L427.66,130.09 L427.52,130.26 L427.36,130.43 L427.19,130.59 L427.00,130.76 L426.79,130.92 L426.56,131.09 L426.31,131.26 L426.03,131.42 L425.73,131.59 L425.40,131.75 L425.03,131.92 L424.62,132.09 L424.14,132.25 L423.57,132.42 L422.82,132.58 L421.00,132.75 L419.18,132.92 L418.43,133.08 L417.86,133.25 L417.38,133.41 L416.97,133.58 L416.60,133.75 L416.27,133.91 L415.97,134.08 L415.69,134.24 L415.44,134.41 L415.21,134.58 L415.00,134.74 L414.81,134.91 L414.64,135.07 L414.48,135.24 L414.34,135.41 L414.21,135.57 L414.10,135.74 L414.01,135.90 L413.93,136.07 L413.86,136.24 L413.81,136.40 L413.78,136.57 L413.76,136.73 L413.75,136.90 L413.76,137.07 L413.78,137.23 L413.81,137.40 L413.86,137.56 L413.93,137.73 L414.01,137.90 L414.10,138.06 L414.21,138.23 L414.34,138.39 L414.48,138.56 L414.64,138.73 L414.81,138.89 L415.00,139.06 L415.21,139.22 L415.44,139.39 L415.69,139.56 L415.97,139.72 L416.27,139.89 L416.60,140.05 L416.97,140.22 L417.38,140.39 L417.86,140.55 L418.43,140.72 L419.18,140.88 L421.00,141.05 L422.82,141.22 L423.57,141.38 L424.14,141.55 L424.62,141.71 L425.03,141.88 L425.40,142.05 L425.73,142.21 L426.03,142.38 L426.31,142.54 L426.56,142.71 L426.79,142.88 L427.00,143.04 L427.19,143.21 L427.36,143.37 L427.52,143.54 L427.66,143.71 L427.79,143.87 L427.90,144.04 L427.99,144.20 L428.07,144.37 L428.14,144.54 L428.19,144.70 L428.22,144.87 L428.24,145.03 L428.25,145.20 L428.24,145.37 L428.22,145.53 L428.19,145.70 L428.14,145.86 L428.07,146.03 L427.99,146.20 L427.90,146.36 L427.79,146.53 L427.66,146.69 L427.52,146.86 L427.36,147.03 L427.19,147.19 L427.00,147.36 L426.79,147.52 L426.56,147.69 L426.31,147.86 L426.03,148.02 L425.73,148.19 L425.40,148.35 L425.03,148.52 L424.62,148.69 L424.14,148.85 L423.57,149.02 L422.82,149.18 L421.00,149.35 L419.18,149.52 L418.43,149.68 L417.86,149.85 L417.38,150.01 L416.97,150.18 L416.60,150.35 L416.27,150.51 L415.97,150.68 L415.69,150.84 L415.44,151.01 L415.21,151.18 L415.00,151.34 L414.81,151.51 L414.64,151.67 L414.48,151.84 L414.34,152.01 L414.21,152.17 L414.10,152.34 L414.01,152.50 L413.93,152.67 L413.86,152.84 L413.81,153.00 L413.78,153.17 L413.76,153.33 L413.75,153.50 L413.76,153.67 L413.78,153.83 L413.81,154.00 L413.86,154.16 L413.93,154.33 L414.01,154.50 L414.10,154.66 L414.21,154.83 L414.34,154.99 L414.48,155.16 L414.64,155.33 L414.81,155.49 L415.00,155.66 L415.21,155.82 L415.44,155.99 L415.69,156.16 L415.97,156.32 L416.27,156.49 L416.60,156.65 L416.97,156.82 L417.38,156.99 L417.86,157.15 L418.43,157.32 L419.18,157.48 L421.00,157.65 L422.82,157.82 L423.57,157.98 L424.14,158.15 L424.62,158.31 L425.03,158.48 L425.40,158.65 L425.73,158.81 L426.03,158.98 L426.31,159.14 L426.56,159.31 L426.79,159.48 L427.00,159.64 L427.19,159.81 L427.36,159.97 L427.52,160.14 L427.66,160.31 L427.79,160.47 L427.90,160.64 L427.99,160.80 L428.07,160.97 L428.14,161.14 L428.19,161.30 L428.22,161.47 L428.24,161.63 L428.25,161.80 L428.24,161.97 L428.22,162.13 L428.19,162.30 L428.14,162.46 L428.07,162.63 L427.99,162.80 L427.90,162.96 L427.79,163.13 L427.66,163.29 L427.52,163.46 L427.36,163.63 L427.19,163.79 L427.00,163.96 L426.79,164.12 L426.56,164.29 L426.31,164.46 L426.03,164.62 L425.73,164.79 L425.40,164.95 L425.03,165.12 L424.62,165.29 L424.14,165.45 L423.57,165.62 L422.82,165.78 L421.00,165.95 L419.18,166.12 L418.43,166.28 L417.86,166.45 L417.38,166.61 L416.97,166.78 L416.60,166.95 L416.27,167.11 L415.97,167.28 L415.69,167.44 L415.44,167.61 L415.21,167.78 L415.00,167.94 L414.81,168.11 L414.64,168.27 L414.48,168.44 L414.34,168.61 L414.21,168.77 L414.10,168.94 L414.01,169.10 L413.93,169.27 L413.86,169.44 L413.81,169.60 L413.78,169.77 L413.76,169.93 L413.75,170.10 L413.76,170.27 L413.78,170.43 L413.81,170.60 L413.86,170.76 L413.93,170.93 L414.01,171.10 L414.10,171.26 L414.21,171.43 L414.34,171.59 L414.48,171.76 L414.64,171.93 L414.81,172.09 L415.00,172.26 L415.21,172.42 L415.44,172.59 L415.69,172.76 L415.97,172.92 L416.27,173.09 L416.60,173.25 L416.97,173.42 L417.38,173.59 L417.86,173.75 L418.43,173.92 L419.18,174.08 L421.00,174.25 L422.82,174.42 L423.57,174.58 L424.14,174.75 L424.62,174.91 L425.03,175.08 L425.40,175.25 L425.73,175.41 L426.03,175.58 L426.31,175.74 L426.56,175.91 L426.79,176.08 L427.00,176.24 L427.19,176.41 L427.36,176.57 L427.52,176.74 L427.66,176.91 L427.79,177.07 L427.90,177.24 L427.99,177.40 L428.07,177.57 L428.14,177.74 L428.19,177.90 L428.22,178.07 L428.24,178.23 L428.25,178.40 L428.24,178.57 L428.22,178.73 L428.19,178.90 L428.14,179.06 L428.07,179.23 L427.99,179.40 L427.90,179.56 L427.79,179.73 L427.66,179.89 L427.52,180.06 L427.36,180.23 L427.19,180.39 L427.00,180.56 L426.79,180.72 L426.56,180.89 L426.31,181.06 L426.03,181.22 L425.73,181.39 L425.40,181.55 L425.03,181.72 L424.62,181.89 L424.14,182.05 L423.57,182.22 L422.82,182.38 L421.00,182.55" fill="none" stroke="#000" stroke-width="3.2" stroke-linecap="round"/>
<line x1="421.5" y1="181.05" x2="421.5" y2="184.3" stroke="#000" stroke-width="3.2"/>
<rect x="412.1" y="183.8" width="19.00" height="4.20" fill="#000"/>
<path d="M471.10,127.05 L469.86,127.14 L469.16,127.24 L468.57,127.33 L468.06,127.43 L467.60,127.52 L467.18,127.61 L466.79,127.71 L466.43,127.80 L466.10,127.90 L465.79,127.99 L465.50,128.08 L465.24,128.18 L464.99,128.27 L464.77,128.37 L464.57,128.46 L464.38,128.55 L464.22,128.65 L464.07,128.74 L463.95,128.84 L463.84,128.93 L463.75,129.02 L463.69,129.12 L463.64,129.21 L463.61,129.31 L463.60,129.40 L463.61,129.49 L463.64,129.59 L463.69,129.68 L463.75,129.78 L463.84,129.87 L463.95,129.96 L464.07,130.06 L464.22,130.15 L464.38,130.25 L464.57,130.34 L464.77,130.43 L464.99,130.53 L465.24,130.62 L465.50,130.72 L465.79,130.81 L466.10,130.90 L466.43,131.00 L466.79,131.09 L467.18,131.19 L467.60,131.28 L468.06,131.37 L468.57,131.47 L469.16,131.56 L469.86,131.66 L471.10,131.75 L472.34,131.84 L473.04,131.94 L473.63,132.03 L474.14,132.13 L474.60,132.22 L475.02,132.31 L475.41,132.41 L475.77,132.50 L476.10,132.60 L476.41,132.69 L476.70,132.78 L476.96,132.88 L477.21,132.97 L477.43,133.07 L477.63,133.16 L477.82,133.25 L477.98,133.35 L478.13,133.44 L478.25,133.54 L478.36,133.63 L478.45,133.72 L478.51,133.82 L478.56,133.91 L478.59,134.01 L478.60,134.10 L478.59,134.19 L478.56,134.29 L478.51,134.38 L478.45,134.48 L478.36,134.57 L478.25,134.66 L478.13,134.76 L477.98,134.85 L477.82,134.95 L477.63,135.04 L477.43,135.13 L477.21,135.23 L476.96,135.32 L476.70,135.42 L476.41,135.51 L476.10,135.60 L475.77,135.70 L475.41,135.79 L475.02,135.89 L474.60,135.98 L474.14,136.07 L473.63,136.17 L473.04,136.26 L472.34,136.36 L471.10,136.45 L469.86,136.54 L469.16,136.64 L468.57,136.73 L468.06,136.83 L467.60,136.92 L467.18,137.01 L466.79,137.11 L466.43,137.20 L466.10,137.30 L465.79,137.39 L465.50,137.48 L465.24,137.58 L464.99,137.67 L464.77,137.77 L464.57,137.86 L464.38,137.95 L464.22,138.05 L464.07,138.14 L463.95,138.24 L463.84,138.33 L463.75,138.42 L463.69,138.52 L463.64,138.61 L463.61,138.71 L463.60,138.80 L463.61,138.89 L463.64,138.99 L463.69,139.08 L463.75,139.18 L463.84,139.27 L463.95,139.36 L464.07,139.46 L464.22,139.55 L464.38,139.65 L464.57,139.74 L464.77,139.83 L464.99,139.93 L465.24,140.02 L465.50,140.12 L465.79,140.21 L466.10,140.30 L466.43,140.40 L466.79,140.49 L467.18,140.59 L467.60,140.68 L468.06,140.77 L468.57,140.87 L469.16,140.96 L469.86,141.06 L471.10,141.15 L472.34,141.24 L473.04,141.34 L473.63,141.43 L474.14,141.53 L474.60,141.62 L475.02,141.71 L475.41,141.81 L475.77,141.90 L476.10,142.00 L476.41,142.09 L476.70,142.18 L476.96,142.28 L477.21,142.37 L477.43,142.47 L477.63,142.56 L477.82,142.65 L477.98,142.75 L478.13,142.84 L478.25,142.94 L478.36,143.03 L478.45,143.12 L478.51,143.22 L478.56,143.31 L478.59,143.41 L478.60,143.50 L478.59,143.59 L478.56,143.69 L478.51,143.78 L478.45,143.88 L478.36,143.97 L478.25,144.06 L478.13,144.16 L477.98,144.25 L477.82,144.35 L477.63,144.44 L477.43,144.53 L477.21,144.63 L476.96,144.72 L476.70,144.82 L476.41,144.91 L476.10,145.00 L475.77,145.10 L475.41,145.19 L475.02,145.29 L474.60,145.38 L474.14,145.47 L473.63,145.57 L473.04,145.66 L472.34,145.76 L471.10,145.85 L469.86,145.94 L469.16,146.04 L468.57,146.13 L468.06,146.23 L467.60,146.32 L467.18,146.41 L466.79,146.51 L466.43,146.60 L466.10,146.70 L465.79,146.79 L465.50,146.88 L465.24,146.98 L464.99,147.07 L464.77,147.17 L464.57,147.26 L464.38,147.35 L464.22,147.45 L464.07,147.54 L463.95,147.64 L463.84,147.73 L463.75,147.82 L463.69,147.92 L463.64,148.01 L463.61,148.11 L463.60,148.20 L463.61,148.29 L463.64,148.39 L463.69,148.48 L463.75,148.58 L463.84,148.67 L463.95,148.76 L464.07,148.86 L464.22,148.95 L464.38,149.05 L464.57,149.14 L464.77,149.23 L464.99,149.33 L465.24,149.42 L465.50,149.52 L465.79,149.61 L466.10,149.70 L466.43,149.80 L466.79,149.89 L467.18,149.99 L467.60,150.08 L468.06,150.17 L468.57,150.27 L469.16,150.36 L469.86,150.46 L471.10,150.55 L472.34,150.64 L473.04,150.74 L473.63,150.83 L474.14,150.93 L474.60,151.02 L475.02,151.11 L475.41,151.21 L475.77,151.30 L476.10,151.40 L476.41,151.49 L476.70,151.58 L476.96,151.68 L477.21,151.77 L477.43,151.87 L477.63,151.96 L477.82,152.05 L477.98,152.15 L478.13,152.24 L478.25,152.34 L478.36,152.43 L478.45,152.52 L478.51,152.62 L478.56,152.71 L478.59,152.81 L478.60,152.90 L478.59,152.99 L478.56,153.09 L478.51,153.18 L478.45,153.28 L478.36,153.37 L478.25,153.46 L478.13,153.56 L477.98,153.65 L477.82,153.75 L477.63,153.84 L477.43,153.93 L477.21,154.03 L476.96,154.12 L476.70,154.22 L476.41,154.31 L476.10,154.40 L475.77,154.50 L475.41,154.59 L475.02,154.69 L474.60,154.78 L474.14,154.87 L473.63,154.97 L473.04,155.06 L472.34,155.16 L471.10,155.25 L469.86,155.34 L469.16,155.44 L468.57,155.53 L468.06,155.63 L467.60,155.72 L467.18,155.81 L466.79,155.91 L466.43,156.00 L466.10,156.10 L465.79,156.19 L465.50,156.28 L465.24,156.38 L464.99,156.47 L464.77,156.57 L464.57,156.66 L464.38,156.75 L464.22,156.85 L464.07,156.94 L463.95,157.04 L463.84,157.13 L463.75,157.22 L463.69,157.32 L463.64,157.41 L463.61,157.51 L463.60,157.60 L463.61,157.69 L463.64,157.79 L463.69,157.88 L463.75,157.98 L463.84,158.07 L463.95,158.16 L464.07,158.26 L464.22,158.35 L464.38,158.45 L464.57,158.54 L464.77,158.63 L464.99,158.73 L465.24,158.82 L465.50,158.92 L465.79,159.01 L466.10,159.10 L466.43,159.20 L466.79,159.29 L467.18,159.39 L467.60,159.48 L468.06,159.57 L468.57,159.67 L469.16,159.76 L469.86,159.86 L471.10,159.95 L472.34,160.04 L473.04,160.14 L473.63,160.23 L474.14,160.33 L474.60,160.42 L475.02,160.51 L475.41,160.61 L475.77,160.70 L476.10,160.80 L476.41,160.89 L476.70,160.98 L476.96,161.08 L477.21,161.17 L477.43,161.27 L477.63,161.36 L477.82,161.45 L477.98,161.55 L478.13,161.64 L478.25,161.74 L478.36,161.83 L478.45,161.92 L478.51,162.02 L478.56,162.11 L478.59,162.21 L478.60,162.30 L478.59,162.39 L478.56,162.49 L478.51,162.58 L478.45,162.68 L478.36,162.77 L478.25,162.86 L478.13,162.96 L477.98,163.05 L477.82,163.15 L477.63,163.24 L477.43,163.33 L477.21,163.43 L476.96,163.52 L476.70,163.62 L476.41,163.71 L476.10,163.80 L475.77,163.90 L475.41,163.99 L475.02,164.09 L474.60,164.18 L474.14,164.27 L473.63,164.37 L473.04,164.46 L472.34,164.56 L471.10,164.65 L469.86,164.74 L469.16,164.84 L468.57,164.93 L468.06,165.03 L467.60,165.12 L467.18,165.21 L466.79,165.31 L466.43,165.40 L466.10,165.50 L465.79,165.59 L465.50,165.68 L465.24,165.78 L464.99,165.87 L464.77,165.97 L464.57,166.06 L464.38,166.15 L464.22,166.25 L464.07,166.34 L463.95,166.44 L463.84,166.53 L463.75,166.62 L463.69,166.72 L463.64,166.81 L463.61,166.91 L463.60,167.00 L463.61,167.09 L463.64,167.19 L463.69,167.28 L463.75,167.38 L463.84,167.47 L463.95,167.56 L464.07,167.66 L464.22,167.75 L464.38,167.85 L464.57,167.94 L464.77,168.03 L464.99,168.13 L465.24,168.22 L465.50,168.32 L465.79,168.41 L466.10,168.50 L466.43,168.60 L466.79,168.69 L467.18,168.79 L467.60,168.88 L468.06,168.97 L468.57,169.07 L469.16,169.16 L469.86,169.26 L471.10,169.35 L472.34,169.44 L473.04,169.54 L473.63,169.63 L474.14,169.73 L474.60,169.82 L475.02,169.91 L475.41,170.01 L475.77,170.10 L476.10,170.20 L476.41,170.29 L476.70,170.38 L476.96,170.48 L477.21,170.57 L477.43,170.67 L477.63,170.76 L477.82,170.85 L477.98,170.95 L478.13,171.04 L478.25,171.14 L478.36,171.23 L478.45,171.32 L478.51,171.42 L478.56,171.51 L478.59,171.61 L478.60,171.70 L478.59,171.79 L478.56,171.89 L478.51,171.98 L478.45,172.08 L478.36,172.17 L478.25,172.26 L478.13,172.36 L477.98,172.45 L477.82,172.55 L477.63,172.64 L477.43,172.73 L477.21,172.83 L476.96,172.92 L476.70,173.02 L476.41,173.11 L476.10,173.20 L475.77,173.30 L475.41,173.39 L475.02,173.49 L474.60,173.58 L474.14,173.67 L473.63,173.77 L473.04,173.86 L472.34,173.96 L471.10,174.05 L469.86,174.14 L469.16,174.24 L468.57,174.33 L468.06,174.43 L467.60,174.52 L467.18,174.61 L466.79,174.71 L466.43,174.80 L466.10,174.90 L465.79,174.99 L465.50,175.08 L465.24,175.18 L464.99,175.27 L464.77,175.37 L464.57,175.46 L464.38,175.55 L464.22,175.65 L464.07,175.74 L463.95,175.84 L463.84,175.93 L463.75,176.02 L463.69,176.12 L463.64,176.21 L463.61,176.31 L463.60,176.40 L463.61,176.49 L463.64,176.59 L463.69,176.68 L463.75,176.78 L463.84,176.87 L463.95,176.96 L464.07,177.06 L464.22,177.15 L464.38,177.25 L464.57,177.34 L464.77,177.43 L464.99,177.53 L465.24,177.62 L465.50,177.72 L465.79,177.81 L466.10,177.90 L466.43,178.00 L466.79,178.09 L467.18,178.19 L467.60,178.28 L468.06,178.37 L468.57,178.47 L469.16,178.56 L469.86,178.66 L471.10,178.75 L472.34,178.84 L473.04,178.94 L473.63,179.03 L474.14,179.13 L474.60,179.22 L475.02,179.31 L475.41,179.41 L475.77,179.50 L476.10,179.60 L476.41,179.69 L476.70,179.78 L476.96,179.88 L477.21,179.97 L477.43,180.07 L477.63,180.16 L477.82,180.25 L477.98,180.35 L478.13,180.44 L478.25,180.54 L478.36,180.63 L478.45,180.72 L478.51,180.82 L478.56,180.91 L478.59,181.01 L478.60,181.10 L478.59,181.19 L478.56,181.29 L478.51,181.38 L478.45,181.48 L478.36,181.57 L478.25,181.66 L478.13,181.76 L477.98,181.85 L477.82,181.95 L477.63,182.04 L477.43,182.13 L477.21,182.23 L476.96,182.32 L476.70,182.42 L476.41,182.51 L476.10,182.60 L475.77,182.70 L475.41,182.79 L475.02,182.89 L474.60,182.98 L474.14,183.07 L473.63,183.17 L473.04,183.26 L472.34,183.36 L471.10,183.45" fill="none" stroke="#000" stroke-width="2.5" stroke-linecap="round"/>
<line x1="470.8" y1="181.95" x2="470.8" y2="184.4" stroke="#000" stroke-width="2.5"/>
<rect x="462.9" y="183.9" width="18.90" height="3.90" fill="#000"/>
<rect x="515.5" y="1.5" width="23" height="29" fill="#fff" stroke="#333" stroke-width="1"/>
<text x="519.6" y="21.6" font-family="'Liberation Serif', serif" font-size="20.5" fill="#111">B</text>
<path d="M548,156.1 L650,154.4 L650,217.2 L522,217.2 L522,190.5 Z" fill="#262628"/>
<path d="M522,190.5 L548,156.1 L575,156 L560,175 L545,200 L522,210 Z" fill="#2a2a2c" opacity="0.6"/>
<rect x="522" y="214.5" width="128" height="2.7" fill="#2f2f31"/>
<clipPath id="ribclip"><path d="M615,155.1 L649.8,154.5 L649.8,203 Z"/></clipPath>
<g clip-path="url(#ribclip)"><rect x="612" y="150" width="40" height="60" fill="#3a3a3d"/>
<line x1="610" y1="155.8" x2="652" y2="161.8" stroke="#121213" stroke-width="1.7"/>
<line x1="610" y1="159.7" x2="652" y2="165.7" stroke="#121213" stroke-width="1.7"/>
<line x1="610" y1="163.6" x2="652" y2="169.6" stroke="#121213" stroke-width="1.7"/>
<line x1="610" y1="167.5" x2="652" y2="173.5" stroke="#121213" stroke-width="1.7"/>
<line x1="610" y1="171.4" x2="652" y2="177.4" stroke="#121213" stroke-width="1.7"/>
<line x1="610" y1="175.3" x2="652" y2="181.3" stroke="#121213" stroke-width="1.7"/>
<line x1="610" y1="179.2" x2="652" y2="185.2" stroke="#121213" stroke-width="1.7"/>
<line x1="610" y1="183.1" x2="652" y2="189.1" stroke="#121213" stroke-width="1.7"/>
<line x1="610" y1="187.0" x2="652" y2="193.0" stroke="#121213" stroke-width="1.7"/>
<line x1="610" y1="190.9" x2="652" y2="196.9" stroke="#121213" stroke-width="1.7"/>
<line x1="610" y1="194.8" x2="652" y2="200.8" stroke="#121213" stroke-width="1.7"/>
<line x1="610" y1="198.7" x2="652" y2="204.7" stroke="#121213" stroke-width="1.7"/>
<line x1="610" y1="202.6" x2="652" y2="208.6" stroke="#121213" stroke-width="1.7"/>
<line x1="610" y1="206.5" x2="652" y2="212.5" stroke="#121213" stroke-width="1.7"/>
</g>
<rect x="536.4" y="162.2" width="15.5" height="6.8" rx="2.5" fill="#0e0e0f"/>
<rect x="522.7" y="197.3" width="18.00" height="8.70" fill="#151516" />
<ellipse cx="527" cy="201" rx="2.6" ry="1.6" fill="#a8a8a8"/>
<ellipse cx="535.9" cy="201" rx="2.6" ry="1.6" fill="#a8a8a8"/>
<ellipse cx="584" cy="192" rx="20" ry="7" fill="#0d0d0e"/>
<ellipse cx="583.5" cy="187" rx="14.5" ry="4.6" fill="#7c7269"/>
<ellipse cx="583.5" cy="186" rx="13" ry="3.6" fill="#b3a99f"/>
<rect x="576.3" y="166.3" width="14.30" height="18.20" fill="#9b9088" />
<rect x="578.5" y="166.3" width="4.00" height="18.20" fill="#cdc5bd" />
<rect x="587.5" y="166.3" width="3.10" height="18.20" fill="#6d635b" />
<rect x="576.3" y="172.5" width="14.30" height="1.50" fill="#7a7068" />
<rect x="580.5" y="161" width="5.50" height="5.30" fill="#b98282" />
<rect x="591.5" y="174.5" width="4.00" height="2.70" fill="#f2f2f2" />
<rect x="596.5" y="176.5" width="3.00" height="3.00" fill="#e4e4e4" />
<path d="M633.5,182.5 l2.4,1 l-1.6,1.8 z" fill="#dddddd"/>
<rect x="561" y="14.8" width="41.50" height="157.20" fill="#ddd7cf" />
<rect x="561.6" y="30" width="2.40" height="142.00" fill="#eeebe6" />
<rect x="564.4" y="14.8" width="35.10" height="157.20" fill="#0f0f10" />
<rect x="570.6" y="14.8" width="22.30" height="10.10" fill="#d7cfc2" />
<rect x="575.4" y="13.8" width="5.70" height="10.20" fill="#2b8cbf" />
<rect x="576.8" y="15.5" width="3.00" height="6.00" fill="#5ab6de" />
<path d="M575,24.9 L592,24.6 L591,27.5 L575,27.7 Z" fill="#1b1612"/>
<rect x="571" y="27.6" width="22.20" height="7.20" fill="#e4ddd0" />
<path d="M558.5,22.5 Q560,21.2 563,21.5 L570.5,22.5 L570.5,25.3 L559,25 Z" fill="#5d5853"/>
<path d="M556.5,27.5 L564.5,27.5 L564.5,31 L559,31 L559,37.3 L556.5,37.3 Q554.8,37.3 554.8,35 L554.8,29.5 Q554.8,27.5 556.5,27.5 Z" fill="#141414"/>
<rect x="575.4" y="34.8" width="13.60" height="25.10" fill="#9c968e" />
<rect x="579.8" y="34.8" width="4.40" height="25.10" fill="#d2cdc5" />
<rect x="586" y="34.8" width="3.00" height="25.10" fill="#77716a" />
<rect x="576" y="59.9" width="14.00" height="4.40" fill="#877d74" />
<rect x="579.8" y="64.3" width="4.30" height="5.30" fill="#e2ddd5" />
<path d="M563.2,89.1 L563.2,73.5 Q563.2,69.3 567.4,69.3 L598.1,69.3 Q602.3,69.3 602.3,73.5 L602.3,89.1 Z" fill="#cbc2b5"/>
<rect x="570.4" y="77.5" width="3.90" height="11.10" fill="#2a231f" />
<rect x="591.2" y="77.5" width="4.80" height="11.10" fill="#6c6158" />
<rect x="593" y="77.5" width="3.00" height="11.10" fill="#3a322c" />
<rect x="578.2" y="75.6" width="13.00" height="13.50" fill="#ebe7e1" />
<rect x="575.3" y="89.1" width="19.70" height="13.50" fill="#e3dcd2" />
<rect x="566.6" y="89.1" width="8.70" height="13.90" fill="#121212" />
<rect x="595" y="89.1" width="3.90" height="13.90" fill="#121212" />
<rect x="555" y="80.9" width="8.20" height="5.80" fill="#958c82" />
<rect x="555" y="80.9" width="8.20" height="1.70" fill="#c2bab0" />
<rect x="602.3" y="81.2" width="15.20" height="5.60" fill="#9a9188" />
<rect x="602.3" y="81.2" width="15.20" height="1.60" fill="#c9c1b7" />
<line x1="557" y1="87" x2="559.3" y2="103.6" stroke="#6b645c" stroke-width="2"/>
<path d="M612,87 Q614,95 610,103" fill="none" stroke="#c9c4be" stroke-width="1.2"/>
<path d="M596.5,91 C610,91.2 632,94 650,102.8" fill="none" stroke="#1a1a1a" stroke-width="1.7"/>
<rect x="561.2" y="104.1" width="46.00" height="4.30" fill="#e7dfd4" />
<path d="M563,108.4 L604,108.4 C606,112 608.5,116.5 612.3,120.4 C606,122 600,124 592,125 L572,125 C566,124 561,122.8 556.1,121.5 C559,117 561,112.5 563,108.4 Z" fill="#2744a2"/>
<path d="M563,108.4 L604,108.4 L603,111 L564,111 Z" fill="#17235f"/>
<path d="M574,124.8 C578,119 584,115.5 590,115.5 C596,115.5 600,119 603,123.5 C598,124.6 592,125 585,125 Z" fill="#141d58"/>
<path d="M558,121 C566,121.8 574,120 582,116.5 C586,115 590,114.5 594,115.5" fill="none" stroke="#6f86d6" stroke-width="0.9" opacity="0.9"/>
<circle cx="565.5" cy="113.5" r="0.8" fill="#8ea0e0"/>
<circle cx="603" cy="111.5" r="0.8" fill="#8ea0e0"/>
<rect x="562.3" y="124.8" width="45.90" height="6.60" fill="#e6dfd5" />
<rect x="562.3" y="130.2" width="45.90" height="1.20" fill="#cfc8bf" />
<rect x="563" y="131.8" width="4.00" height="40.20" fill="#cdc6bd" />
<rect x="599.8" y="131.8" width="3.20" height="40.20" fill="#cdc6bd" />
<rect x="567" y="131.8" width="32.80" height="40.20" fill="#101011" />
<rect x="575" y="131.8" width="20.00" height="25.20" fill="#e5dfd7" />
<path d="M564.2,143.9 L577.9,143.9 L577.9,152.5 Q577.9,156.5 581.9,156.5 L587,156.5 Q591,156.5 591,152.5 L591,143.9 L602.5,143.9 L602.5,152 Q602.5,160.9 593.5,160.9 L573.2,160.9 Q564.2,160.9 564.2,152 Z" fill="#8b7f75"/>
<rect x="570.7" y="146" width="3.90" height="8.80" fill="#1c1917" />
<rect x="552.7" y="144.4" width="11.70" height="6.10" fill="#aaa39a" />
<rect x="552.7" y="144.4" width="11.70" height="1.80" fill="#d4cec6" />
<rect x="602.5" y="144.4" width="14.50" height="6.40" fill="#a49d94" />
<rect x="602.5" y="144.4" width="14.50" height="1.80" fill="#cfc9c1" />
<line x1="556.5" y1="150.3" x2="556.5" y2="173.5" stroke="#8f8a84" stroke-width="2.2"/>
<line x1="585.8" y1="79.5" x2="621.5" y2="79.5" stroke="#111" stroke-width="1.4"/>
<circle cx="585.8" cy="79.5" r="3.6" fill="#f2f2f2"/>
<circle cx="585.8" cy="79.5" r="2.1" fill="#111"/>
<circle cx="621.2" cy="79.5" r="2.1" fill="#111"/>
<line x1="597.8" y1="118" x2="636" y2="118" stroke="#111" stroke-width="1.4"/>
<circle cx="597.6" cy="117.9" r="4" fill="none" stroke="#d8dbe2" stroke-width="1.5"/>
<circle cx="597.8" cy="117.8" r="2.1" fill="#111"/>
<circle cx="636" cy="118" r="2.1" fill="#111"/>
<rect x="621.4" y="66.1" width="59.8" height="25.3" rx="3" fill="#939393"/>
<rect x="636" y="111.4" width="46.8" height="13" rx="3" fill="#939393"/>
<text x="623.4" y="76.9" font-family="'Liberation Serif', serif" fill="#f0f0f0" font-size="10.5" textLength="54.4" lengthAdjust="spacingAndGlyphs">Compression</text>
<text x="638.6" y="88.4" font-family="'Liberation Serif', serif" fill="#f0f0f0" font-size="10.5" textLength="25.5" lengthAdjust="spacingAndGlyphs">plates</text>
<text x="640.6" y="120.6" font-family="'Liberation Serif', serif" fill="#f0f0f0" font-size="10.5" textLength="38.4" lengthAdjust="spacingAndGlyphs">Actuator</text>
<line x1="545.8" y1="109" x2="545.8" y2="89.5" stroke="#e5161b" stroke-width="2"/>
<path d="M542.8,89.5 L548.8,89.5 L545.8,84 Z" fill="#e5161b"/>
<line x1="545.8" y1="127" x2="545.8" y2="146.5" stroke="#e5161b" stroke-width="2"/>
<path d="M542.8,146.5 L548.8,146.5 L545.8,152 Z" fill="#e5161b"/>
<text x="533.2" y="90.8" font-family="'Liberation Serif', serif" font-size="10.5" fill="#222">F</text>
<text x="533.4" y="152.6" font-family="'Liberation Serif', serif" font-size="10.5" fill="#222">F</text>
<rect x="1.5" y="228.0" width="23" height="29" fill="#fff" stroke="#333" stroke-width="1"/>
<text x="5.6" y="249.7" font-family="'Liberation Serif', serif" font-size="22" fill="#111">C</text>
<rect x="110.5" y="246.8" width="542.0" height="155.0" fill="#fff"/>
<line x1="110.5" y1="386.30" x2="652.5" y2="386.30" stroke="#777" stroke-width="1.2" stroke-dasharray="5.1,2.22" stroke-dashoffset="-1.3"/>
<line x1="110.5" y1="370.80" x2="652.5" y2="370.80" stroke="#777" stroke-width="1.2" stroke-dasharray="5.1,2.22" stroke-dashoffset="-1.3"/>
<line x1="110.5" y1="355.30" x2="652.5" y2="355.30" stroke="#777" stroke-width="1.2" stroke-dasharray="5.1,2.22" stroke-dashoffset="-1.3"/>
<line x1="110.5" y1="339.80" x2="652.5" y2="339.80" stroke="#777" stroke-width="1.2" stroke-dasharray="5.1,2.22" stroke-dashoffset="-1.3"/>
<line x1="110.5" y1="324.30" x2="652.5" y2="324.30" stroke="#777" stroke-width="1.2" stroke-dasharray="5.1,2.22" stroke-dashoffset="-1.3"/>
<line x1="110.5" y1="308.80" x2="652.5" y2="308.80" stroke="#777" stroke-width="1.2" stroke-dasharray="5.1,2.22" stroke-dashoffset="-1.3"/>
<line x1="110.5" y1="293.30" x2="652.5" y2="293.30" stroke="#777" stroke-width="1.2" stroke-dasharray="5.1,2.22" stroke-dashoffset="-1.3"/>
<line x1="110.5" y1="277.80" x2="652.5" y2="277.80" stroke="#777" stroke-width="1.2" stroke-dasharray="5.1,2.22" stroke-dashoffset="-1.3"/>
<line x1="110.5" y1="262.30" x2="652.5" y2="262.30" stroke="#777" stroke-width="1.2" stroke-dasharray="5.1,2.22" stroke-dashoffset="-1.3"/>
<line x1="218.90" y1="246.8" x2="218.90" y2="401.8" stroke="#777" stroke-width="1.2" stroke-dasharray="5.1,2.22" stroke-dashoffset="-1.9"/>
<line x1="327.30" y1="246.8" x2="327.30" y2="401.8" stroke="#777" stroke-width="1.2" stroke-dasharray="5.1,2.22" stroke-dashoffset="-1.9"/>
<line x1="435.70" y1="246.8" x2="435.70" y2="401.8" stroke="#777" stroke-width="1.2" stroke-dasharray="5.1,2.22" stroke-dashoffset="-1.9"/>
<line x1="544.10" y1="246.8" x2="544.10" y2="401.8" stroke="#777" stroke-width="1.2" stroke-dasharray="5.1,2.22" stroke-dashoffset="-1.9"/>
<line x1="110.5" y1="401.80" x2="118.0" y2="401.80" stroke="#000" stroke-width="1.3"/>
<line x1="645.0" y1="401.80" x2="652.5" y2="401.80" stroke="#000" stroke-width="1.3"/>
<line x1="110.5" y1="397.93" x2="114.3" y2="397.93" stroke="#000" stroke-width="1.3"/>
<line x1="648.7" y1="397.93" x2="652.5" y2="397.93" stroke="#000" stroke-width="1.3"/>
<line x1="110.5" y1="394.05" x2="114.3" y2="394.05" stroke="#000" stroke-width="1.3"/>
<line x1="648.7" y1="394.05" x2="652.5" y2="394.05" stroke="#000" stroke-width="1.3"/>
<line x1="110.5" y1="390.18" x2="114.3" y2="390.18" stroke="#000" stroke-width="1.3"/>
<line x1="648.7" y1="390.18" x2="652.5" y2="390.18" stroke="#000" stroke-width="1.3"/>
<line x1="110.5" y1="386.30" x2="118.0" y2="386.30" stroke="#000" stroke-width="1.3"/>
<line x1="645.0" y1="386.30" x2="652.5" y2="386.30" stroke="#000" stroke-width="1.3"/>
<line x1="110.5" y1="382.43" x2="114.3" y2="382.43" stroke="#000" stroke-width="1.3"/>
<line x1="648.7" y1="382.43" x2="652.5" y2="382.43" stroke="#000" stroke-width="1.3"/>
<line x1="110.5" y1="378.55" x2="114.3" y2="378.55" stroke="#000" stroke-width="1.3"/>
<line x1="648.7" y1="378.55" x2="652.5" y2="378.55" stroke="#000" stroke-width="1.3"/>
<line x1="110.5" y1="374.68" x2="114.3" y2="374.68" stroke="#000" stroke-width="1.3"/>
<line x1="648.7" y1="374.68" x2="652.5" y2="374.68" stroke="#000" stroke-width="1.3"/>
<line x1="110.5" y1="370.80" x2="118.0" y2="370.80" stroke="#000" stroke-width="1.3"/>
<line x1="645.0" y1="370.80" x2="652.5" y2="370.80" stroke="#000" stroke-width="1.3"/>
<line x1="110.5" y1="366.93" x2="114.3" y2="366.93" stroke="#000" stroke-width="1.3"/>
<line x1="648.7" y1="366.93" x2="652.5" y2="366.93" stroke="#000" stroke-width="1.3"/>
<line x1="110.5" y1="363.05" x2="114.3" y2="363.05" stroke="#000" stroke-width="1.3"/>
<line x1="648.7" y1="363.05" x2="652.5" y2="363.05" stroke="#000" stroke-width="1.3"/>
<line x1="110.5" y1="359.18" x2="114.3" y2="359.18" stroke="#000" stroke-width="1.3"/>
<line x1="648.7" y1="359.18" x2="652.5" y2="359.18" stroke="#000" stroke-width="1.3"/>
<line x1="110.5" y1="355.30" x2="118.0" y2="355.30" stroke="#000" stroke-width="1.3"/>
<line x1="645.0" y1="355.30" x2="652.5" y2="355.30" stroke="#000" stroke-width="1.3"/>
<line x1="110.5" y1="351.43" x2="114.3" y2="351.43" stroke="#000" stroke-width="1.3"/>
<line x1="648.7" y1="351.43" x2="652.5" y2="351.43" stroke="#000" stroke-width="1.3"/>
<line x1="110.5" y1="347.55" x2="114.3" y2="347.55" stroke="#000" stroke-width="1.3"/>
<line x1="648.7" y1="347.55" x2="652.5" y2="347.55" stroke="#000" stroke-width="1.3"/>
<line x1="110.5" y1="343.68" x2="114.3" y2="343.68" stroke="#000" stroke-width="1.3"/>
<line x1="648.7" y1="343.68" x2="652.5" y2="343.68" stroke="#000" stroke-width="1.3"/>
<line x1="110.5" y1="339.80" x2="118.0" y2="339.80" stroke="#000" stroke-width="1.3"/>
<line x1="645.0" y1="339.80" x2="652.5" y2="339.80" stroke="#000" stroke-width="1.3"/>
<line x1="110.5" y1="335.93" x2="114.3" y2="335.93" stroke="#000" stroke-width="1.3"/>
<line x1="648.7" y1="335.93" x2="652.5" y2="335.93" stroke="#000" stroke-width="1.3"/>
<line x1="110.5" y1="332.05" x2="114.3" y2="332.05" stroke="#000" stroke-width="1.3"/>
<line x1="648.7" y1="332.05" x2="652.5" y2="332.05" stroke="#000" stroke-width="1.3"/>
<line x1="110.5" y1="328.18" x2="114.3" y2="328.18" stroke="#000" stroke-width="1.3"/>
<line x1="648.7" y1="328.18" x2="652.5" y2="328.18" stroke="#000" stroke-width="1.3"/>
<line x1="110.5" y1="324.30" x2="118.0" y2="324.30" stroke="#000" stroke-width="1.3"/>
<line x1="645.0" y1="324.30" x2="652.5" y2="324.30" stroke="#000" stroke-width="1.3"/>
<line x1="110.5" y1="320.43" x2="114.3" y2="320.43" stroke="#000" stroke-width="1.3"/>
<line x1="648.7" y1="320.43" x2="652.5" y2="320.43" stroke="#000" stroke-width="1.3"/>
<line x1="110.5" y1="316.55" x2="114.3" y2="316.55" stroke="#000" stroke-width="1.3"/>
<line x1="648.7" y1="316.55" x2="652.5" y2="316.55" stroke="#000" stroke-width="1.3"/>
<line x1="110.5" y1="312.68" x2="114.3" y2="312.68" stroke="#000" stroke-width="1.3"/>
<line x1="648.7" y1="312.68" x2="652.5" y2="312.68" stroke="#000" stroke-width="1.3"/>
<line x1="110.5" y1="308.80" x2="118.0" y2="308.80" stroke="#000" stroke-width="1.3"/>
<line x1="645.0" y1="308.80" x2="652.5" y2="308.80" stroke="#000" stroke-width="1.3"/>
<line x1="110.5" y1="304.93" x2="114.3" y2="304.93" stroke="#000" stroke-width="1.3"/>
<line x1="648.7" y1="304.93" x2="652.5" y2="304.93" stroke="#000" stroke-width="1.3"/>
<line x1="110.5" y1="301.05" x2="114.3" y2="301.05" stroke="#000" stroke-width="1.3"/>
<line x1="648.7" y1="301.05" x2="652.5" y2="301.05" stroke="#000" stroke-width="1.3"/>
<line x1="110.5" y1="297.18" x2="114.3" y2="297.18" stroke="#000" stroke-width="1.3"/>
<line x1="648.7" y1="297.18" x2="652.5" y2="297.18" stroke="#000" stroke-width="1.3"/>
<line x1="110.5" y1="293.30" x2="118.0" y2="293.30" stroke="#000" stroke-width="1.3"/>
<line x1="645.0" y1="293.30" x2="652.5" y2="293.30" stroke="#000" stroke-width="1.3"/>
<line x1="110.5" y1="289.43" x2="114.3" y2="289.43" stroke="#000" stroke-width="1.3"/>
<line x1="648.7" y1="289.43" x2="652.5" y2="289.43" stroke="#000" stroke-width="1.3"/>
<line x1="110.5" y1="285.55" x2="114.3" y2="285.55" stroke="#000" stroke-width="1.3"/>
<line x1="648.7" y1="285.55" x2="652.5" y2="285.55" stroke="#000" stroke-width="1.3"/>
<line x1="110.5" y1="281.68" x2="114.3" y2="281.68" stroke="#000" stroke-width="1.3"/>
<line x1="648.7" y1="281.68" x2="652.5" y2="281.68" stroke="#000" stroke-width="1.3"/>
<line x1="110.5" y1="277.80" x2="118.0" y2="277.80" stroke="#000" stroke-width="1.3"/>
<line x1="645.0" y1="277.80" x2="652.5" y2="277.80" stroke="#000" stroke-width="1.3"/>
<line x1="110.5" y1="273.93" x2="114.3" y2="273.93" stroke="#000" stroke-width="1.3"/>
<line x1="648.7" y1="273.93" x2="652.5" y2="273.93" stroke="#000" stroke-width="1.3"/>
<line x1="110.5" y1="270.05" x2="114.3" y2="270.05" stroke="#000" stroke-width="1.3"/>
<line x1="648.7" y1="270.05" x2="652.5" y2="270.05" stroke="#000" stroke-width="1.3"/>
<line x1="110.5" y1="266.18" x2="114.3" y2="266.18" stroke="#000" stroke-width="1.3"/>
<line x1="648.7" y1="266.18" x2="652.5" y2="266.18" stroke="#000" stroke-width="1.3"/>
<line x1="110.5" y1="262.30" x2="118.0" y2="262.30" stroke="#000" stroke-width="1.3"/>
<line x1="645.0" y1="262.30" x2="652.5" y2="262.30" stroke="#000" stroke-width="1.3"/>
<line x1="110.5" y1="258.43" x2="114.3" y2="258.43" stroke="#000" stroke-width="1.3"/>
<line x1="648.7" y1="258.43" x2="652.5" y2="258.43" stroke="#000" stroke-width="1.3"/>
<line x1="110.5" y1="254.55" x2="114.3" y2="254.55" stroke="#000" stroke-width="1.3"/>
<line x1="648.7" y1="254.55" x2="652.5" y2="254.55" stroke="#000" stroke-width="1.3"/>
<line x1="110.5" y1="250.68" x2="114.3" y2="250.68" stroke="#000" stroke-width="1.3"/>
<line x1="648.7" y1="250.68" x2="652.5" y2="250.68" stroke="#000" stroke-width="1.3"/>
<line x1="110.5" y1="246.80" x2="118.0" y2="246.80" stroke="#000" stroke-width="1.3"/>
<line x1="645.0" y1="246.80" x2="652.5" y2="246.80" stroke="#000" stroke-width="1.3"/>
<line x1="110.50" y1="401.8" x2="110.50" y2="394.8" stroke="#000" stroke-width="1.3"/>
<line x1="110.50" y1="246.8" x2="110.50" y2="253.8" stroke="#000" stroke-width="1.3"/>
<line x1="132.18" y1="401.8" x2="132.18" y2="397.8" stroke="#000" stroke-width="1.3"/>
<line x1="132.18" y1="246.8" x2="132.18" y2="250.8" stroke="#000" stroke-width="1.3"/>
<line x1="153.86" y1="401.8" x2="153.86" y2="397.8" stroke="#000" stroke-width="1.3"/>
<line x1="153.86" y1="246.8" x2="153.86" y2="250.8" stroke="#000" stroke-width="1.3"/>
<line x1="175.54" y1="401.8" x2="175.54" y2="397.8" stroke="#000" stroke-width="1.3"/>
<line x1="175.54" y1="246.8" x2="175.54" y2="250.8" stroke="#000" stroke-width="1.3"/>
<line x1="197.22" y1="401.8" x2="197.22" y2="397.8" stroke="#000" stroke-width="1.3"/>
<line x1="197.22" y1="246.8" x2="197.22" y2="250.8" stroke="#000" stroke-width="1.3"/>
<line x1="218.90" y1="401.8" x2="218.90" y2="394.8" stroke="#000" stroke-width="1.3"/>
<line x1="218.90" y1="246.8" x2="218.90" y2="253.8" stroke="#000" stroke-width="1.3"/>
<line x1="240.58" y1="401.8" x2="240.58" y2="397.8" stroke="#000" stroke-width="1.3"/>
<line x1="240.58" y1="246.8" x2="240.58" y2="250.8" stroke="#000" stroke-width="1.3"/>
<line x1="262.26" y1="401.8" x2="262.26" y2="397.8" stroke="#000" stroke-width="1.3"/>
<line x1="262.26" y1="246.8" x2="262.26" y2="250.8" stroke="#000" stroke-width="1.3"/>
<line x1="283.94" y1="401.8" x2="283.94" y2="397.8" stroke="#000" stroke-width="1.3"/>
<line x1="283.94" y1="246.8" x2="283.94" y2="250.8" stroke="#000" stroke-width="1.3"/>
<line x1="305.62" y1="401.8" x2="305.62" y2="397.8" stroke="#000" stroke-width="1.3"/>
<line x1="305.62" y1="246.8" x2="305.62" y2="250.8" stroke="#000" stroke-width="1.3"/>
<line x1="327.30" y1="401.8" x2="327.30" y2="394.8" stroke="#000" stroke-width="1.3"/>
<line x1="327.30" y1="246.8" x2="327.30" y2="253.8" stroke="#000" stroke-width="1.3"/>
<line x1="348.98" y1="401.8" x2="348.98" y2="397.8" stroke="#000" stroke-width="1.3"/>
<line x1="348.98" y1="246.8" x2="348.98" y2="250.8" stroke="#000" stroke-width="1.3"/>
<line x1="370.66" y1="401.8" x2="370.66" y2="397.8" stroke="#000" stroke-width="1.3"/>
<line x1="370.66" y1="246.8" x2="370.66" y2="250.8" stroke="#000" stroke-width="1.3"/>
<line x1="392.34" y1="401.8" x2="392.34" y2="397.8" stroke="#000" stroke-width="1.3"/>
<line x1="392.34" y1="246.8" x2="392.34" y2="250.8" stroke="#000" stroke-width="1.3"/>
<line x1="414.02" y1="401.8" x2="414.02" y2="397.8" stroke="#000" stroke-width="1.3"/>
<line x1="414.02" y1="246.8" x2="414.02" y2="250.8" stroke="#000" stroke-width="1.3"/>
<line x1="435.70" y1="401.8" x2="435.70" y2="394.8" stroke="#000" stroke-width="1.3"/>
<line x1="435.70" y1="246.8" x2="435.70" y2="253.8" stroke="#000" stroke-width="1.3"/>
<line x1="457.38" y1="401.8" x2="457.38" y2="397.8" stroke="#000" stroke-width="1.3"/>
<line x1="457.38" y1="246.8" x2="457.38" y2="250.8" stroke="#000" stroke-width="1.3"/>
<line x1="479.06" y1="401.8" x2="479.06" y2="397.8" stroke="#000" stroke-width="1.3"/>
<line x1="479.06" y1="246.8" x2="479.06" y2="250.8" stroke="#000" stroke-width="1.3"/>
<line x1="500.74" y1="401.8" x2="500.74" y2="397.8" stroke="#000" stroke-width="1.3"/>
<line x1="500.74" y1="246.8" x2="500.74" y2="250.8" stroke="#000" stroke-width="1.3"/>
<line x1="522.42" y1="401.8" x2="522.42" y2="397.8" stroke="#000" stroke-width="1.3"/>
<line x1="522.42" y1="246.8" x2="522.42" y2="250.8" stroke="#000" stroke-width="1.3"/>
<line x1="544.10" y1="401.8" x2="544.10" y2="394.8" stroke="#000" stroke-width="1.3"/>
<line x1="544.10" y1="246.8" x2="544.10" y2="253.8" stroke="#000" stroke-width="1.3"/>
<line x1="565.78" y1="401.8" x2="565.78" y2="397.8" stroke="#000" stroke-width="1.3"/>
<line x1="565.78" y1="246.8" x2="565.78" y2="250.8" stroke="#000" stroke-width="1.3"/>
<line x1="587.46" y1="401.8" x2="587.46" y2="397.8" stroke="#000" stroke-width="1.3"/>
<line x1="587.46" y1="246.8" x2="587.46" y2="250.8" stroke="#000" stroke-width="1.3"/>
<line x1="609.14" y1="401.8" x2="609.14" y2="397.8" stroke="#000" stroke-width="1.3"/>
<line x1="609.14" y1="246.8" x2="609.14" y2="250.8" stroke="#000" stroke-width="1.3"/>
<line x1="630.82" y1="401.8" x2="630.82" y2="397.8" stroke="#000" stroke-width="1.3"/>
<line x1="630.82" y1="246.8" x2="630.82" y2="250.8" stroke="#000" stroke-width="1.3"/>
<line x1="652.50" y1="401.8" x2="652.50" y2="394.8" stroke="#000" stroke-width="1.3"/>
<line x1="652.50" y1="246.8" x2="652.50" y2="253.8" stroke="#000" stroke-width="1.3"/>
<g clip-path="url(#plotclip)">
<path d="M110.50,401.80 L116.68,401.39 L122.87,400.96 L129.05,400.53 L135.23,400.08 L141.42,399.63 L147.60,399.17 L153.78,398.70 L159.97,398.22 L166.15,397.73 L172.34,397.23 L178.52,396.72 L184.70,396.20 L190.89,395.67 L197.07,395.14 L203.25,394.59 L209.44,394.04 L215.62,393.47 L221.80,392.90 L227.99,392.32 L234.17,391.73 L240.35,391.13 L246.54,390.53 L252.72,389.91 L258.91,389.29 L265.09,388.65 L271.27,388.01 L277.46,387.36 L283.64,386.70 L289.82,386.04 L296.01,385.36 L302.19,384.68 L308.37,383.99 L314.56,383.29 L320.74,382.58 L326.92,381.87 L333.11,381.14 L339.29,380.41 L345.47,379.67 L351.66,378.92 L357.84,378.17 L364.03,377.40 L370.21,376.63 L376.39,375.85 L382.58,375.07 L388.76,374.27 L394.94,373.47 L401.13,372.66 L407.31,371.85 L413.49,371.02 L419.68,370.19 L425.86,369.35 L432.04,368.50 L438.23,367.65 L444.41,366.79 L450.59,365.92 L456.78,365.05 L462.96,364.16 L469.15,363.27 L475.33,362.38 L481.51,361.47 L487.70,360.56 L493.88,359.65 L500.06,358.72 L506.25,357.79 L512.43,356.86 L518.61,355.91 L524.80,354.96 L530.98,354.00 L537.16,353.04 L543.35,352.07 L549.53,351.09 L555.72,350.11 L561.90,349.12 L568.08,348.12 L574.27,347.12 L580.45,346.11 L586.63,345.10 L592.82,344.08 L599.00,343.05" fill="none" stroke="#9acd32" stroke-width="2.6"/>
<circle cx="154" cy="400" r="4.2" fill="#556b2f"/>
<circle cx="208" cy="394.8" r="4.2" fill="#556b2f"/>
<circle cx="262.6" cy="389.9" r="4.2" fill="#556b2f"/>
<circle cx="316.6" cy="384" r="4.2" fill="#556b2f"/>
<circle cx="366.5" cy="378" r="4.2" fill="#556b2f"/>
<circle cx="419.6" cy="371.1" r="4.2" fill="#556b2f"/>
<circle cx="472" cy="363.9" r="4.2" fill="#556b2f"/>
<circle cx="525.5" cy="354.9" r="4.2" fill="#556b2f"/>
<circle cx="593.6" cy="342.6" r="4.2" fill="#556b2f"/>
<path d="M110.50,401.80 L116.66,401.13 L122.82,400.44 L128.97,399.74 L135.13,399.03 L141.29,398.31 L147.45,397.58 L153.61,396.84 L159.77,396.08 L165.92,395.32 L172.08,394.54 L178.24,393.75 L184.40,392.95 L190.56,392.14 L196.72,391.32 L202.87,390.49 L209.03,389.64 L215.19,388.79 L221.35,387.92 L227.51,387.04 L233.66,386.15 L239.82,385.24 L245.98,384.33 L252.14,383.40 L258.30,382.46 L264.46,381.50 L270.61,380.54 L276.77,379.56 L282.93,378.57 L289.09,377.56 L295.25,376.55 L301.41,375.52 L307.56,374.47 L313.72,373.42 L319.88,372.35 L326.04,371.27 L332.20,370.18 L338.35,369.07 L344.51,367.95 L350.67,366.81 L356.83,365.66 L362.99,364.50 L369.15,363.33 L375.30,362.14 L381.46,360.94 L387.62,359.72 L393.78,358.49 L399.94,357.24 L406.09,355.98 L412.25,354.71 L418.41,353.42 L424.57,352.12 L430.73,350.81 L436.89,349.48 L443.04,348.13 L449.20,346.77 L455.36,345.40 L461.52,344.01 L467.68,342.60 L473.84,341.18 L479.99,339.75 L486.15,338.30 L492.31,336.84 L498.47,335.36 L504.63,333.86 L510.78,332.35 L516.94,330.83 L523.10,329.29 L529.26,327.73 L535.42,326.16 L541.58,324.57 L547.73,322.96 L553.89,321.34 L560.05,319.71 L566.21,318.05 L572.37,316.39 L578.53,314.70 L584.68,313.00 L590.84,311.28 L597.00,309.55" fill="none" stroke="#b8860b" stroke-width="2.6"/>
<circle cx="159.9" cy="395.7" r="4.2" fill="#ff8c00"/>
<circle cx="214.7" cy="390.4" r="4.2" fill="#ff8c00"/>
<circle cx="269.9" cy="382.8" r="4.2" fill="#ff8c00"/>
<circle cx="324.4" cy="373.5" r="4.2" fill="#ff8c00"/>
<circle cx="379.1" cy="364.8" r="4.2" fill="#ff8c00"/>
<circle cx="433.8" cy="353.4" r="4.2" fill="#ff8c00"/>
<circle cx="488.5" cy="340.2" r="4.2" fill="#ff8c00"/>
<circle cx="543.2" cy="326" r="4.2" fill="#ff8c00"/>
<circle cx="597.2" cy="308.6" r="4.2" fill="#ff8c00"/>
<path d="M110.50,401.80 L116.67,400.90 L122.84,400.00 L129.01,399.10 L135.18,398.19 L141.35,397.28 L147.53,396.36 L153.70,395.43 L159.87,394.50 L166.04,393.56 L172.21,392.62 L178.38,391.66 L184.55,390.69 L190.72,389.72 L196.89,388.73 L203.06,387.74 L209.23,386.73 L215.41,385.71 L221.58,384.68 L227.75,383.63 L233.92,382.57 L240.09,381.50 L246.26,380.42 L252.43,379.31 L258.60,378.20 L264.77,377.06 L270.94,375.91 L277.11,374.74 L283.28,373.56 L289.46,372.35 L295.63,371.13 L301.80,369.89 L307.97,368.63 L314.14,367.35 L320.31,366.04 L326.48,364.72 L332.65,363.37 L338.82,362.00 L344.99,360.61 L351.16,359.19 L357.34,357.75 L363.51,356.28 L369.68,354.79 L375.85,353.27 L382.02,351.73 L388.19,350.16 L394.36,348.56 L400.53,346.93 L406.70,345.28 L412.87,343.59 L419.04,341.88 L425.22,340.14 L431.39,338.36 L437.56,336.56 L443.73,334.72 L449.90,332.85 L456.07,330.94 L462.24,329.01 L468.41,327.04 L474.58,325.03 L480.75,322.99 L486.92,320.91 L493.09,318.80 L499.27,316.65 L505.44,314.47 L511.61,312.24 L517.78,309.98 L523.95,307.68 L530.12,305.34 L536.29,302.95 L542.46,300.53 L548.63,298.07 L554.80,295.57 L560.97,293.02 L567.15,290.43 L573.32,287.80 L579.49,285.12 L585.66,282.40 L591.83,279.64 L598.00,276.83" fill="none" stroke="#add8e6" stroke-width="2.6"/>
<circle cx="169.2" cy="393.4" r="4.2" fill="#008080"/>
<circle cx="227.6" cy="384.6" r="4.2" fill="#008080"/>
<circle cx="286" cy="373.6" r="4.2" fill="#008080"/>
<circle cx="344.6" cy="360.6" r="4.2" fill="#008080"/>
<circle cx="403.1" cy="344.4" r="4.2" fill="#008080"/>
<circle cx="462" cy="329.7" r="4.2" fill="#008080"/>
<circle cx="520" cy="311" r="4.2" fill="#008080"/>
<circle cx="598.1" cy="277.4" r="4.2" fill="#008080"/>
</g>
<rect x="110.5" y="246.8" width="542.0" height="155.0" fill="none" stroke="#000" stroke-width="1.4"/>
<rect x="115.5" y="250.5" width="171.9" height="85" rx="2" fill="#fff" stroke="#cccccc" stroke-width="1"/>
<line x1="118" y1="258.60" x2="139.7" y2="258.60" stroke="#9acd32" stroke-width="2.6"/>
<text x="147" y="262.00" font-family="'Liberation Serif', serif" font-size="10" fill="#222" lengthAdjust="spacingAndGlyphs" textLength="89.3">FEM @ 0.1MPa</text>
<circle cx="129.5" cy="272.45" r="4" fill="#556b2f"/>
<text x="147" y="275.85" font-family="'Liberation Serif', serif" font-size="10" fill="#222" lengthAdjust="spacingAndGlyphs" textLength="127">Experiment @ 0.1MPa</text>
<line x1="118" y1="286.30" x2="139.7" y2="286.30" stroke="#b8860b" stroke-width="2.6"/>
<text x="147" y="289.70" font-family="'Liberation Serif', serif" font-size="10" fill="#222" lengthAdjust="spacingAndGlyphs" textLength="97">FEM @ 0.15MPa</text>
<circle cx="129.5" cy="300.15" r="4" fill="#ff8c00"/>
<text x="147" y="303.55" font-family="'Liberation Serif', serif" font-size="10" fill="#222" lengthAdjust="spacingAndGlyphs" textLength="135">Experiment @ 0.15MPa</text>
<line x1="118" y1="314.00" x2="139.7" y2="314.00" stroke="#add8e6" stroke-width="2.6"/>
<text x="147" y="317.40" font-family="'Liberation Serif', serif" font-size="10" fill="#222" lengthAdjust="spacingAndGlyphs" textLength="89.3">FEM @ 0.2MPa</text>
<circle cx="129.5" cy="327.85" r="4" fill="#008080"/>
<text x="147" y="331.25" font-family="'Liberation Serif', serif" font-size="10" fill="#222" lengthAdjust="spacingAndGlyphs" textLength="127">Experiment @ 0.2MPa</text>
<text x="100.2" y="407.20" text-anchor="end" font-family="'Liberation Serif', serif" font-size="16" fill="#222" lengthAdjust="spacingAndGlyphs" textLength="10.7">0</text>
<text x="100.2" y="391.70" text-anchor="end" font-family="'Liberation Serif', serif" font-size="16" fill="#222" lengthAdjust="spacingAndGlyphs" textLength="30.8">200</text>
<text x="100.2" y="376.20" text-anchor="end" font-family="'Liberation Serif', serif" font-size="16" fill="#222" lengthAdjust="spacingAndGlyphs" textLength="30.8">400</text>
<text x="100.2" y="360.70" text-anchor="end" font-family="'Liberation Serif', serif" font-size="16" fill="#222" lengthAdjust="spacingAndGlyphs" textLength="30.8">600</text>
<text x="100.2" y="345.20" text-anchor="end" font-family="'Liberation Serif', serif" font-size="16" fill="#222" lengthAdjust="spacingAndGlyphs" textLength="30.8">800</text>
<text x="100.2" y="329.70" text-anchor="end" font-family="'Liberation Serif', serif" font-size="16" fill="#222" lengthAdjust="spacingAndGlyphs" textLength="42.0">1000</text>
<text x="100.2" y="314.20" text-anchor="end" font-family="'Liberation Serif', serif" font-size="16" fill="#222" lengthAdjust="spacingAndGlyphs" textLength="42.0">1200</text>
<text x="100.2" y="298.70" text-anchor="end" font-family="'Liberation Serif', serif" font-size="16" fill="#222" lengthAdjust="spacingAndGlyphs" textLength="42.0">1400</text>
<text x="100.2" y="283.20" text-anchor="end" font-family="'Liberation Serif', serif" font-size="16" fill="#222" lengthAdjust="spacingAndGlyphs" textLength="42.0">1600</text>
<text x="100.2" y="267.70" text-anchor="end" font-family="'Liberation Serif', serif" font-size="16" fill="#222" lengthAdjust="spacingAndGlyphs" textLength="42.0">1800</text>
<text x="96.40" y="423.5" font-family="'Liberation Serif', serif" font-size="16" fill="#222" lengthAdjust="spacingAndGlyphs" textLength="27">0.0</text>
<text x="200.05" y="423.5" font-family="'Liberation Serif', serif" font-size="16" fill="#222" lengthAdjust="spacingAndGlyphs" textLength="36.5">0.01</text>
<text x="308.45" y="423.5" font-family="'Liberation Serif', serif" font-size="16" fill="#222" lengthAdjust="spacingAndGlyphs" textLength="36.5">0.02</text>
<text x="416.85" y="423.5" font-family="'Liberation Serif', serif" font-size="16" fill="#222" lengthAdjust="spacingAndGlyphs" textLength="36.5">0.03</text>
<text x="525.25" y="423.5" font-family="'Liberation Serif', serif" font-size="16" fill="#222" lengthAdjust="spacingAndGlyphs" textLength="36.5">0.04</text>
<text x="302.3" y="451.2" font-family="'Liberation Serif', serif" font-size="16" fill="#222" lengthAdjust="spacingAndGlyphs" textLength="156.5">Displacement (m)</text>
<text transform="translate(45.2,365.7) rotate(-90)" x="0" y="0" font-family="'Liberation Serif', serif" font-size="16" fill="#222" lengthAdjust="spacingAndGlyphs" textLength="82.5">Force (N)</text></svg>
</body></html>
